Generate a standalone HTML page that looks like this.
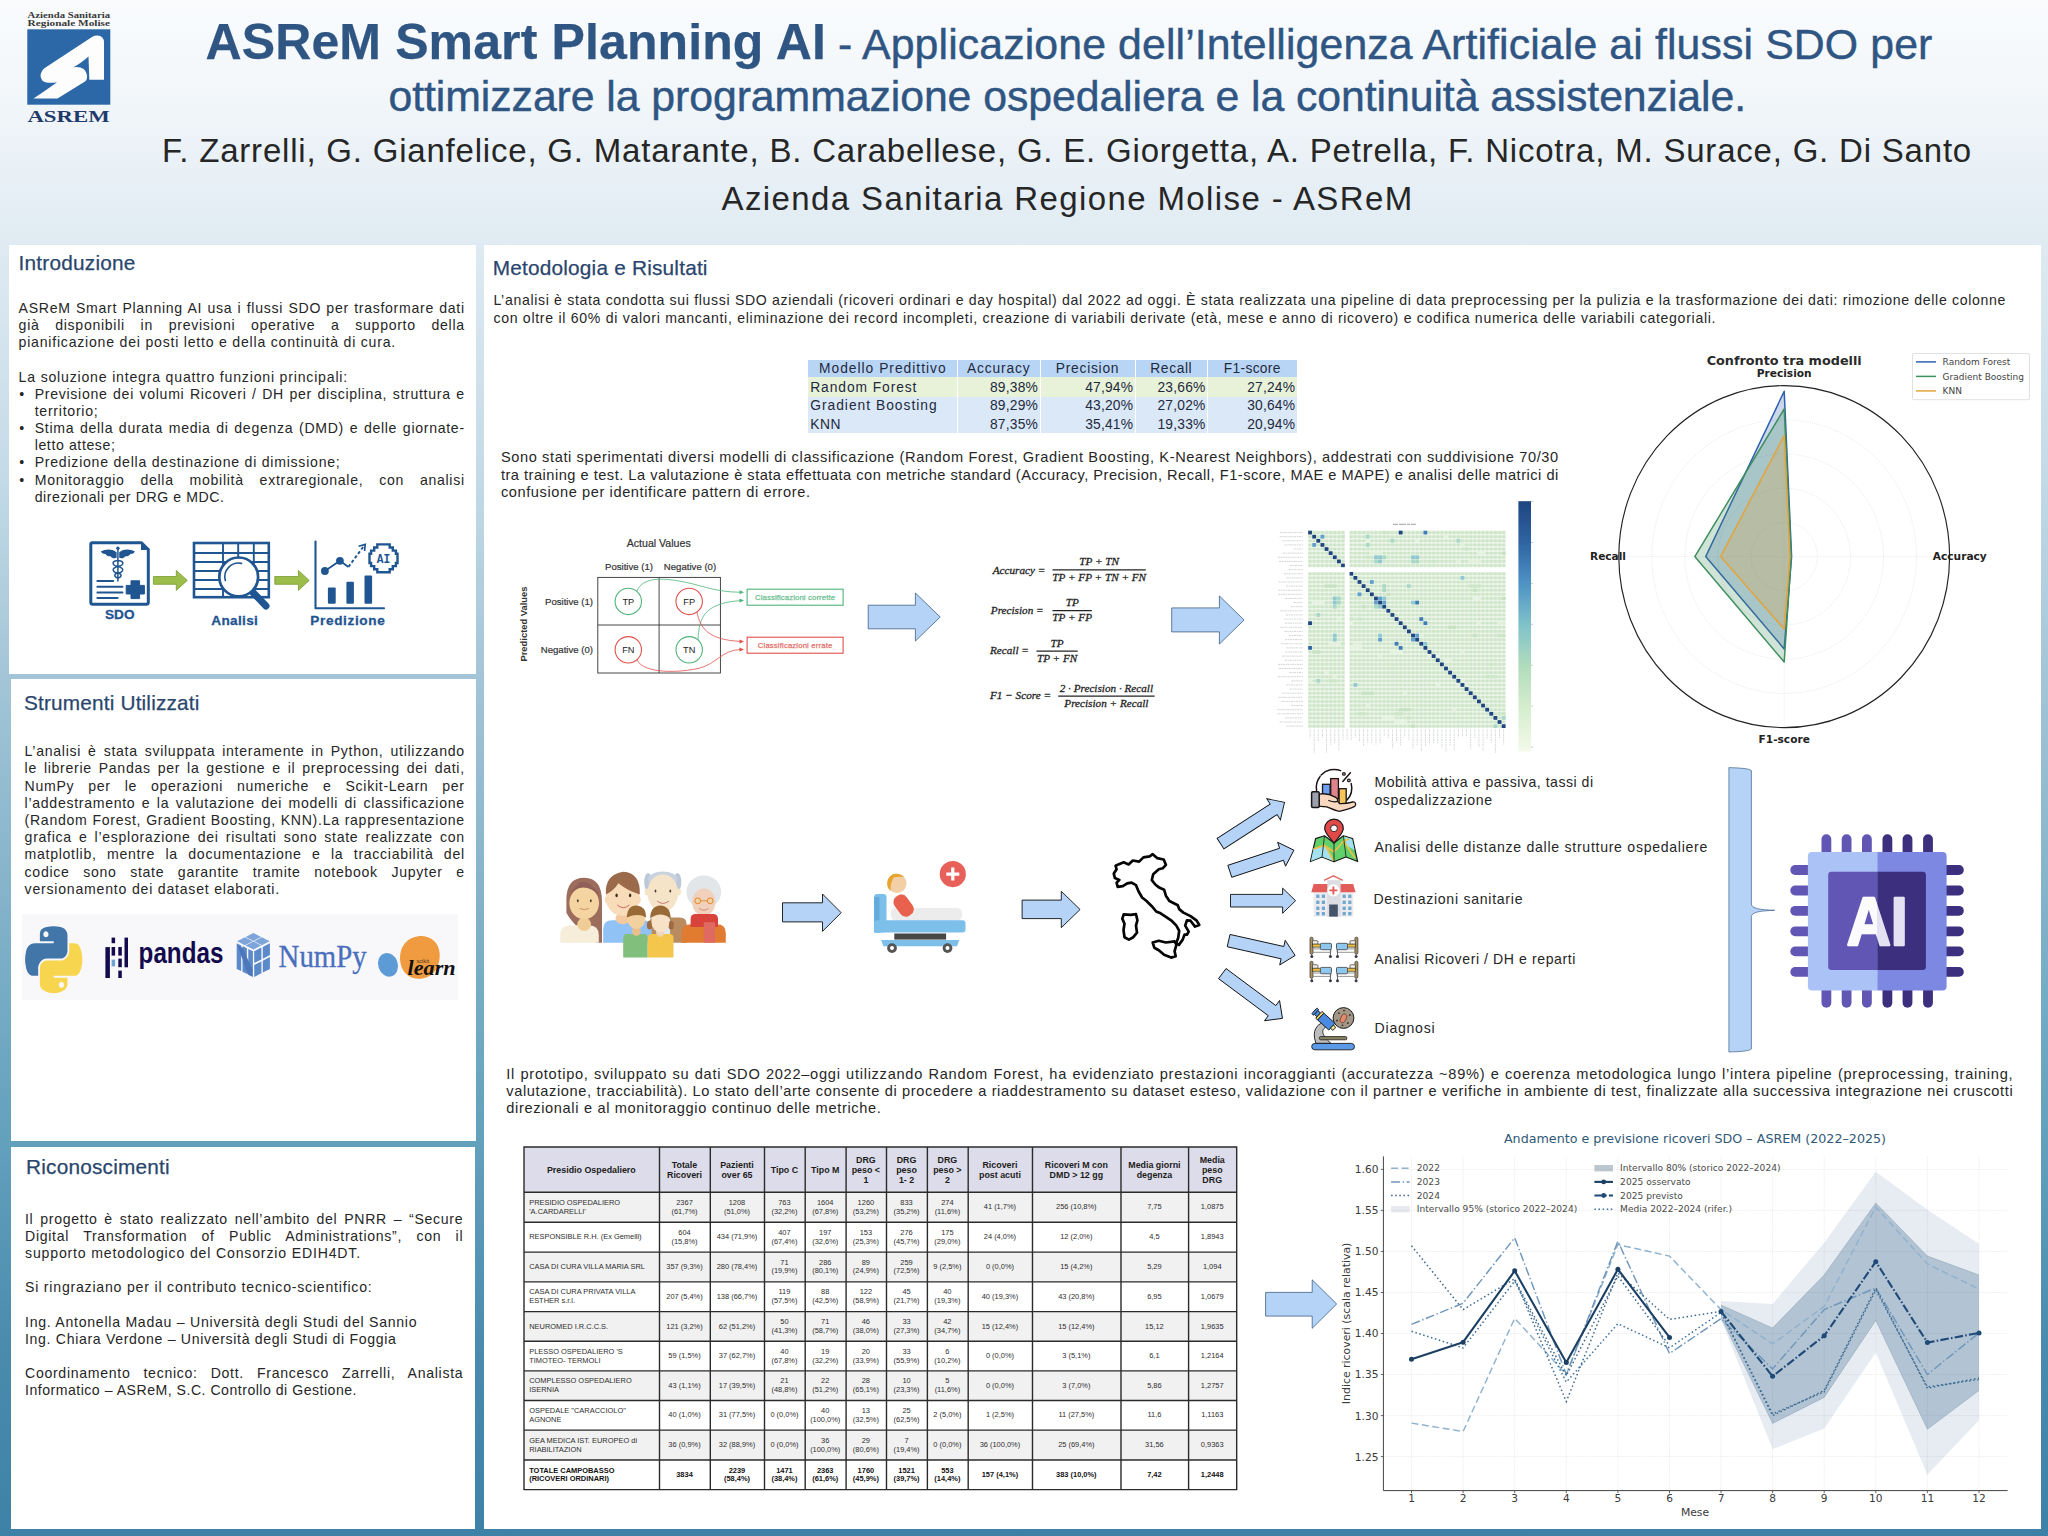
<!DOCTYPE html>
<html lang="it"><head><meta charset="utf-8">
<title>ASReM Smart Planning AI</title>
<style>
html,body{margin:0;padding:0;}
body{width:2048px;height:1536px;overflow:hidden;position:relative;font-family:"Liberation Sans",sans-serif;
background:linear-gradient(180deg,#f9fbfd 0px,#f3f7fa 90px,#e6eff5 190px,#dfeaf2 245px,#c4dbe7 470px,#a3c5d7 676px,#7fb0c8 930px,#62a0bc 1144px,#4a8bad 1350px,#3d82a6 1536px);}
.t{position:absolute;white-space:nowrap;margin:0;padding:0;}
.b{position:absolute;display:block;}
.p{position:absolute;background:#fff;}
.th,.td{position:absolute;display:flex;align-items:center;justify-content:center;text-align:center;box-sizing:border-box;}
.th{font-weight:bold;font-size:8.9px;line-height:10.2px;color:#1c1c1c;padding-top:1.4px;}
.td{font-size:7.45px;line-height:8.8px;color:#2e2e2e;padding-top:1px;}
.tl{justify-content:flex-start;text-align:left;padding-left:5.6px;}
.tb{font-weight:bold;color:#111;}
</style></head><body>

<div class="p" style="left:9px;top:245px;width:467px;height:429px"></div>
<div class="p" style="left:11px;top:679px;width:465px;height:462px"></div>
<div class="p" style="left:11px;top:1147px;width:464px;height:382px"></div>
<div class="p" style="left:484px;top:245px;width:1557px;height:1284px"></div>
<svg class="b" style="left:20px;top:8px" width="100" height="120" viewBox="20 8 100 120"><g font-family="'Liberation Serif', serif" font-weight="bold" lengthAdjust="spacingAndGlyphs"><text x="27.6" y="18.2" font-size="7.7" fill="#3a3a3a" textLength="82.4" lengthAdjust="spacingAndGlyphs">Azienda Sanitaria</text><text x="27.6" y="25.6" font-size="7.7" fill="#3a3a3a" textLength="82.4" lengthAdjust="spacingAndGlyphs">Regionale Molise</text><text x="27.4" y="121.6" font-size="17.6" fill="#1f3a6b" textLength="82.4" lengthAdjust="spacingAndGlyphs">ASREM</text></g></svg>
<svg class="b" style="left:27.0px;top:29.0px;" width="84.0" height="76.0" viewBox="0 0 84 76">
<rect x="0.3" y="0.3" width="83" height="75.4" fill="#2c68a7"/>
<path d="M6.5 69.5 L30.5 69.5 L58 52.5 Q60.5 50.5 60 46.5 Q59 41.5 56.5 40 Q53.5 37.5 46.5 38.2 Q53.5 34.5 61.5 27.5 L62.3 50.8 L77 50.8 L77 13.5 Q76.8 7 70.5 6.6 Q67.5 6.6 65 8 L18.5 38.5 Q13.5 42 13.6 47 Q14 52.5 19.5 53.5 Q23.5 54.3 30 53.2 Q20 60.5 6.5 69.5 Z" fill="#fdfdfd"/>
</svg>
<div class="t" style="left:205.5px;top:14.0px;font-size:50px;line-height:56px;color:#2f5583;width:1727.0px;text-align:justify;text-align-last:justify;letter-spacing:0.116px;"><b style="-webkit-text-stroke:0.25px #2f5583">ASReM Smart Planning AI</b><span style="font-size:42.8px;-webkit-text-stroke:0.45px #2f5583"> - Applicazione dell’Intelligenza Artificiale ai flussi SDO per</span></div>
<div class="t" style="left:388.5px;top:72.0px;font-size:42.8px;line-height:48px;color:#2f5583;width:1357.5px;text-align:justify;text-align-last:justify;letter-spacing:-0.081px;-webkit-text-stroke:0.45px #2f5583;">ottimizzare la programmazione ospedaliera e la continuità assistenziale.</div>
<div class="t" style="left:162.0px;top:132.0px;font-size:33px;line-height:37px;color:#262626;width:1810.0px;text-align:justify;text-align-last:justify;letter-spacing:0.791px;">F. Zarrelli, G. Gianfelice, G. Matarante, B. Carabellese, G. E. Giorgetta, A. Petrella, F. Nicotra, M. Surace, G. Di Santo</div>
<div class="t" style="left:721.5px;top:180.0px;font-size:33px;line-height:37px;color:#262626;width:692.0px;text-align:justify;text-align-last:justify;letter-spacing:1.383px;">Azienda Sanitaria Regione Molise - ASReM</div>
<div class="t" style="left:18.6px;top:251.0px;font-size:20.8px;line-height:23px;color:#2a456c;width:117.0px;text-align:justify;text-align-last:justify;letter-spacing:0.207px;-webkit-text-stroke:0.25px #2d4a73;">Introduzione</div>
<div class="t" style="left:18.6px;top:300.0px;font-size:14.1px;line-height:16px;color:#262626;width:446.2px;text-align:justify;text-align-last:justify;letter-spacing:0.701px;">ASReM Smart Planning AI usa i flussi SDO per trasformare dati</div>
<div class="t" style="left:18.6px;top:317.0px;font-size:14.1px;line-height:16px;color:#262626;width:446.2px;text-align:justify;text-align-last:justify;letter-spacing:0.701px;">già disponibili in previsioni operative a supporto della</div>
<div class="t" style="left:18.6px;top:334.0px;font-size:14.1px;line-height:16px;color:#262626;width:377.4px;text-align:justify;text-align-last:justify;letter-spacing:0.775px;">pianificazione dei posti letto e della continuità di cura.</div>
<div class="t" style="left:18.6px;top:369.0px;font-size:14.1px;line-height:16px;color:#262626;width:329.4px;text-align:justify;text-align-last:justify;letter-spacing:0.802px;">La soluzione integra quattro funzioni principali:</div>
<div class="t" style="left:34.7px;top:386.0px;font-size:14.1px;line-height:16px;color:#262626;width:430.1px;text-align:justify;text-align-last:justify;letter-spacing:0.701px;">Previsione dei volumi Ricoveri / DH per disciplina, struttura e</div>
<div class="t" style="left:34.7px;top:403.0px;font-size:14.1px;line-height:16px;color:#262626;width:63.8px;text-align:justify;text-align-last:justify;letter-spacing:0.741px;">territorio;</div>
<div class="t" style="left:34.7px;top:420.0px;font-size:14.1px;line-height:16px;color:#262626;width:430.1px;text-align:justify;text-align-last:justify;letter-spacing:0.701px;">Stima della durata media di degenza (DMD) e delle giornate-</div>
<div class="t" style="left:34.7px;top:437.0px;font-size:14.1px;line-height:16px;color:#262626;width:80.8px;text-align:justify;text-align-last:justify;letter-spacing:0.606px;">letto attese;</div>
<div class="t" style="left:34.7px;top:454.0px;font-size:14.1px;line-height:16px;color:#262626;width:305.8px;text-align:justify;text-align-last:justify;letter-spacing:0.750px;">Predizione della destinazione di dimissione;</div>
<div class="t" style="left:34.7px;top:472.0px;font-size:14.1px;line-height:16px;color:#262626;width:430.1px;text-align:justify;text-align-last:justify;letter-spacing:0.701px;">Monitoraggio della mobilità extraregionale, con analisi</div>
<div class="t" style="left:34.7px;top:489.0px;font-size:14.1px;line-height:16px;color:#262626;width:189.8px;text-align:justify;text-align-last:justify;letter-spacing:0.578px;">direzionali per DRG e MDC.</div>
<div class="t" style="left:19.3px;top:386.0px;font-size:14.1px;line-height:16px;color:#262626;">•</div>
<div class="t" style="left:19.3px;top:420.0px;font-size:14.1px;line-height:16px;color:#262626;">•</div>
<div class="t" style="left:19.3px;top:454.0px;font-size:14.1px;line-height:16px;color:#262626;">•</div>
<div class="t" style="left:19.3px;top:472.0px;font-size:14.1px;line-height:16px;color:#262626;">•</div>
<div class="t" style="left:24.0px;top:691.0px;font-size:20.8px;line-height:23px;color:#2a456c;width:175.5px;text-align:justify;text-align-last:justify;letter-spacing:0.161px;-webkit-text-stroke:0.25px #2d4a73;">Strumenti Utilizzati</div>
<div class="t" style="left:24.6px;top:743.0px;font-size:14.1px;line-height:16px;color:#262626;width:440.2px;text-align:justify;text-align-last:justify;letter-spacing:0.701px;">L’analisi è stata sviluppata interamente in Python, utilizzando</div>
<div class="t" style="left:24.6px;top:760.0px;font-size:14.1px;line-height:16px;color:#262626;width:440.2px;text-align:justify;text-align-last:justify;letter-spacing:0.701px;">le librerie Pandas per la gestione e il preprocessing dei dati,</div>
<div class="t" style="left:24.6px;top:778.0px;font-size:14.1px;line-height:16px;color:#262626;width:440.2px;text-align:justify;text-align-last:justify;letter-spacing:0.701px;">NumPy per le operazioni numeriche e Scikit-Learn per</div>
<div class="t" style="left:24.6px;top:795.0px;font-size:14.1px;line-height:16px;color:#262626;width:440.2px;text-align:justify;text-align-last:justify;letter-spacing:0.701px;">l’addestramento e la valutazione dei modelli di classificazione</div>
<div class="t" style="left:24.6px;top:812.0px;font-size:14.1px;line-height:16px;color:#262626;width:440.2px;text-align:justify;text-align-last:justify;letter-spacing:0.701px;">(Random Forest, Gradient Boosting, KNN).La rappresentazione</div>
<div class="t" style="left:24.6px;top:829.0px;font-size:14.1px;line-height:16px;color:#262626;width:440.2px;text-align:justify;text-align-last:justify;letter-spacing:0.701px;">grafica e l’esplorazione dei risultati sono state realizzate con</div>
<div class="t" style="left:24.6px;top:846.0px;font-size:14.1px;line-height:16px;color:#262626;width:440.2px;text-align:justify;text-align-last:justify;letter-spacing:0.701px;">matplotlib, mentre la documentazione e la tracciabilità del</div>
<div class="t" style="left:24.6px;top:864.0px;font-size:14.1px;line-height:16px;color:#262626;width:440.2px;text-align:justify;text-align-last:justify;letter-spacing:0.701px;">codice sono state garantite tramite notebook Jupyter e</div>
<div class="t" style="left:24.6px;top:881.0px;font-size:14.1px;line-height:16px;color:#262626;width:255.4px;text-align:justify;text-align-last:justify;letter-spacing:0.779px;">versionamento dei dataset elaborati.</div>
<div class="t" style="left:26.1px;top:1155.0px;font-size:20.8px;line-height:23px;color:#2a456c;width:143.7px;text-align:justify;text-align-last:justify;letter-spacing:0.188px;-webkit-text-stroke:0.25px #2d4a73;">Riconoscimenti</div>
<div class="t" style="left:25.0px;top:1211.0px;font-size:14.1px;line-height:16px;color:#262626;width:438.3px;text-align:justify;text-align-last:justify;letter-spacing:0.701px;">Il progetto è stato realizzato nell’ambito del PNRR – “Secure</div>
<div class="t" style="left:25.0px;top:1228.0px;font-size:14.1px;line-height:16px;color:#262626;width:438.3px;text-align:justify;text-align-last:justify;letter-spacing:0.701px;">Digital Transformation of Public Administrations”, con il</div>
<div class="t" style="left:25.0px;top:1245.0px;font-size:14.1px;line-height:16px;color:#262626;width:336.0px;text-align:justify;text-align-last:justify;letter-spacing:0.831px;">supporto metodologico del Consorzio EDIH4DT.</div>
<div class="t" style="left:25.0px;top:1279.0px;font-size:14.1px;line-height:16px;color:#262626;width:347.5px;text-align:justify;text-align-last:justify;letter-spacing:0.788px;">Si ringraziano per il contributo tecnico-scientifico:</div>
<div class="t" style="left:25.0px;top:1314.0px;font-size:14.1px;line-height:16px;color:#262626;width:392.3px;text-align:justify;text-align-last:justify;letter-spacing:0.733px;">Ing. Antonella Madau – Università degli Studi del Sannio</div>
<div class="t" style="left:25.0px;top:1331.0px;font-size:14.1px;line-height:16px;color:#262626;width:371.6px;text-align:justify;text-align-last:justify;letter-spacing:0.668px;">Ing. Chiara Verdone – Università degli Studi di Foggia</div>
<div class="t" style="left:25.0px;top:1365.0px;font-size:14.1px;line-height:16px;color:#262626;width:438.3px;text-align:justify;text-align-last:justify;letter-spacing:0.701px;">Coordinamento tecnico: Dott. Francesco Zarrelli, Analista</div>
<div class="t" style="left:25.0px;top:1382.0px;font-size:14.1px;line-height:16px;color:#262626;width:332.0px;text-align:justify;text-align-last:justify;letter-spacing:0.499px;">Informatico – ASReM, S.C. Controllo di Gestione.</div>
<div class="b" style="left:22.3px;top:914.0px;width:436.2px;height:86.0px;background:#f8f8fa;"></div>
<svg class="b" style="left:22px;top:914px" width="437" height="86" viewBox="22 914 437 86">
<g transform="translate(25.1,926.3) scale(0.515,0.595)"><path fill="#4275a8" d="M54.92 0.001c-4.584.022-8.961.413-12.813 1.095C30.76 3.1 28.7 7.295 28.7 15.032v10.219h26.813v3.406H18.638c-7.793 0-14.616 4.684-16.75 13.594-2.462 10.213-2.571 16.586 0 27.25 1.906 7.938 6.458 13.594 14.25 13.594h9.219v-12.25c0-8.85 7.657-16.656 16.75-16.656h26.781c7.455 0 13.406-6.138 13.406-13.625V15.032c0-7.266-6.13-12.725-13.406-13.937C64.282.328 59.502-.02 54.918.001zm-14.5 8.219c2.77 0 5.031 2.299 5.031 5.125 0 2.816-2.262 5.094-5.031 5.094-2.78 0-5.031-2.277-5.031-5.094 0-2.826 2.252-5.125 5.031-5.125z"/><path fill="#f8d54e" d="M85.638 28.657v11.906c0 9.231-7.826 17-16.75 17H42.106c-7.336 0-13.406 6.279-13.406 13.625v25.531c0 7.266 6.319 11.541 13.406 13.625 8.487 2.496 16.626 2.947 26.781 0 6.75-1.954 13.406-5.888 13.406-13.625V86.501H55.513v-3.406h40.188c7.793 0 10.696-5.436 13.406-13.594 2.8-8.399 2.681-16.476 0-27.25-1.926-7.757-5.604-13.594-13.406-13.594zM70.575 93.313c2.78 0 5.031 2.278 5.031 5.094 0 2.826-2.252 5.125-5.031 5.125-2.77 0-5.031-2.299-5.031-5.125 0-2.816 2.262-5.094 5.031-5.094z"/></g>
<rect x="105.4" y="947.1" width="4.5" height="30.9" fill="#130a4e"/>
<rect x="111.6" y="937.6" width="3.5" height="5.6" fill="#130a4e"/>
<rect x="111.6" y="947.0" width="3.5" height="8.6" fill="#130a4e"/>
<rect x="111.6" y="959.6" width="3.5" height="6.8" fill="#6ea2d5"/>
<rect x="118.3" y="947.0" width="3.5" height="8.6" fill="#130a4e"/>
<rect x="118.3" y="958.6" width="3.5" height="8.6" fill="#130a4e"/>
<rect x="118.3" y="970.6" width="3.5" height="7.4" fill="#130a4e"/>
<rect x="124.5" y="937.6" width="3.5" height="29.7" fill="#130a4e"/>
<text transform="translate(138.6,962.9) scale(1,1.2)" font-family="'Liberation Sans', sans-serif" font-weight="bold" font-size="24.2" fill="#130a4e" textLength="84.8" lengthAdjust="spacingAndGlyphs">pandas</text>
<path d="M253.4 932.9 L261.2 936.9 L253.4 940.9 L245.6 936.9 Z" fill="#7ea5da"/>
<path d="M244.9 937.2 L252.7 941.2 L244.9 945.2 L237.1 941.2 Z" fill="#7ea5da"/>
<path d="M261.9 937.2 L269.7 941.2 L261.9 945.2 L254.1 941.2 Z" fill="#7ea5da"/>
<path d="M253.4 941.5 L261.2 945.5 L253.4 949.5 L245.6 945.5 Z" fill="#7ea5da"/>
<path d="M236.7 943.2 L241.2 945.4 L241.2 971.1 L236.7 968.9 Z" fill="#5b89c9"/>
<path d="M242.5 946.1 L246.9 948.3 L246.9 959.9 L242.5 957.7 Z" fill="#5b89c9"/>
<path d="M242.5 960.2 L246.9 962.5 L246.9 974.0 L242.5 971.8 Z" fill="#5b89c9"/>
<path d="M248.3 949.0 L252.9 951.3 L252.9 977.0 L248.3 974.7 Z" fill="#5b89c9"/>
<path d="M237.6 945.2 L242.6 947.7 L252.4 969.5 L252.4 976.5 L247.4 973.9 Z" fill="#4c78bb"/>
<path d="M254.2 951.2 L261.4 947.6 L261.4 959.4 L254.2 963.0 Z" fill="#5b89c9"/>
<path d="M254.2 965.0 L261.4 961.4 L261.4 973.3 L254.2 976.9 Z" fill="#5b89c9"/>
<path d="M262.8 946.9 L269.9 943.3 L269.9 955.1 L262.8 958.7 Z" fill="#5b89c9"/>
<path d="M262.8 960.7 L269.9 957.1 L269.9 969.0 L262.8 972.6 Z" fill="#5b89c9"/>
<text transform="translate(278.6,966.5) scale(1,1.06)" font-family="'Liberation Serif', serif" font-size="29" fill="#4a6fbd" stroke="#4a6fbd" stroke-width="0.3" textLength="88" lengthAdjust="spacingAndGlyphs">NumPy</text>
<ellipse cx="388" cy="964.8" rx="9.8" ry="12" transform="rotate(-18 388 964.8)" fill="#5c9bd5"/>
<path d="M418 936.2 C429 934.8 438.5 941 439.6 953 C440.6 966 434 977.5 421 978.7 C409 979.6 400.6 972 400 959 C399.6 947 406.5 937.6 418 936.2 Z" fill="#f09b3f"/>
<text x="416.4" y="963.2" font-family="'Liberation Sans', sans-serif" font-size="5" fill="#4a3520" textLength="12.6" lengthAdjust="spacingAndGlyphs">scikit</text>
<text x="407.6" y="975.4" font-family="'Liberation Serif', serif" font-style="italic" font-weight="bold" font-size="21" fill="#111" textLength="48" lengthAdjust="spacingAndGlyphs">learn</text>
</svg>
<div class="t" style="left:492.7px;top:256.0px;font-size:20.8px;line-height:23px;color:#2a456c;width:215.0px;text-align:justify;text-align-last:justify;letter-spacing:0.196px;-webkit-text-stroke:0.25px #2d4a73;">Metodologia e Risultati</div>
<div class="t" style="left:493.4px;top:292.0px;font-size:14.1px;line-height:16px;color:#262626;width:1512.6px;text-align:justify;text-align-last:justify;letter-spacing:0.661px;">L’analisi è stata condotta sui flussi SDO aziendali (ricoveri ordinari e day hospital) dal 2022 ad oggi. È stata realizzata una pipeline di data preprocessing per la pulizia e la trasformazione dei dati: rimozione delle colonne</div>
<div class="t" style="left:493.4px;top:310.0px;font-size:14.1px;line-height:16px;color:#262626;width:1222.8px;text-align:justify;text-align-last:justify;letter-spacing:0.698px;">con oltre il 60% di valori mancanti, eliminazione dei record incompleti, creazione di variabili derivate (età, mese e anno di ricovero) e codifica numerica delle variabili categoriali.</div>
<div class="b" style="left:808.3px;top:359.5px;width:149.1px;height:17.4px;background:#b9d5f5;"></div>
<div class="b" style="left:958.0px;top:359.5px;width:82.0px;height:17.4px;background:#b9d5f5;"></div>
<div class="b" style="left:1040.6px;top:359.5px;width:94.6px;height:17.4px;background:#b9d5f5;"></div>
<div class="b" style="left:1135.8px;top:359.5px;width:71.7px;height:17.4px;background:#b9d5f5;"></div>
<div class="b" style="left:1208.1px;top:359.5px;width:89.1px;height:17.4px;background:#b9d5f5;"></div>
<div class="b" style="left:808.3px;top:377.3px;width:149.1px;height:19.3px;background:#e7f2d9;"></div>
<div class="b" style="left:958.0px;top:377.3px;width:82.0px;height:19.3px;background:#e7f2d9;"></div>
<div class="b" style="left:1040.6px;top:377.3px;width:94.6px;height:19.3px;background:#e7f2d9;"></div>
<div class="b" style="left:1135.8px;top:377.3px;width:71.7px;height:19.3px;background:#e7f2d9;"></div>
<div class="b" style="left:1208.1px;top:377.3px;width:89.1px;height:19.3px;background:#e7f2d9;"></div>
<div class="b" style="left:808.3px;top:397.0px;width:149.1px;height:18.0px;background:#dae8f8;"></div>
<div class="b" style="left:958.0px;top:397.0px;width:82.0px;height:18.0px;background:#dae8f8;"></div>
<div class="b" style="left:1040.6px;top:397.0px;width:94.6px;height:18.0px;background:#dae8f8;"></div>
<div class="b" style="left:1135.8px;top:397.0px;width:71.7px;height:18.0px;background:#dae8f8;"></div>
<div class="b" style="left:1208.1px;top:397.0px;width:89.1px;height:18.0px;background:#dae8f8;"></div>
<div class="b" style="left:808.3px;top:415.4px;width:149.1px;height:17.8px;background:#dae8f8;"></div>
<div class="b" style="left:958.0px;top:415.4px;width:82.0px;height:17.8px;background:#dae8f8;"></div>
<div class="b" style="left:1040.6px;top:415.4px;width:94.6px;height:17.8px;background:#dae8f8;"></div>
<div class="b" style="left:1135.8px;top:415.4px;width:71.7px;height:17.8px;background:#dae8f8;"></div>
<div class="b" style="left:1208.1px;top:415.4px;width:89.1px;height:17.8px;background:#dae8f8;"></div>
<div class="t" style="left:819.0px;top:361.0px;font-size:13.8px;line-height:15px;color:#1f2a3d;width:127.6px;text-align:justify;text-align-last:justify;letter-spacing:0.992px;">Modello Predittivo</div>
<div class="t" style="left:967.0px;top:361.0px;font-size:13.8px;line-height:15px;color:#1f2a3d;width:63.5px;text-align:justify;text-align-last:justify;letter-spacing:0.840px;">Accuracy</div>
<div class="t" style="left:1055.8px;top:361.0px;font-size:13.8px;line-height:15px;color:#1f2a3d;width:63.5px;text-align:justify;text-align-last:justify;letter-spacing:0.746px;">Precision</div>
<div class="t" style="left:1150.3px;top:361.0px;font-size:13.8px;line-height:15px;color:#1f2a3d;width:42.0px;text-align:justify;text-align-last:justify;letter-spacing:0.605px;">Recall</div>
<div class="t" style="left:1223.8px;top:361.0px;font-size:13.8px;line-height:15px;color:#1f2a3d;width:57.0px;text-align:justify;text-align-last:justify;letter-spacing:0.316px;">F1-score</div>
<div class="t" style="left:810.2px;top:380.0px;font-size:13.8px;line-height:15px;color:#1f2a3d;width:107.2px;text-align:justify;text-align-last:justify;letter-spacing:0.927px;">Random Forest</div>
<div class="t" style="left:990.0px;top:380.0px;font-size:13.8px;line-height:15px;color:#1f2a3d;width:48.0px;text-align:justify;text-align-last:justify;letter-spacing:0.197px;">89,38%</div>
<div class="t" style="left:1085.2px;top:380.0px;font-size:13.8px;line-height:15px;color:#1f2a3d;width:48.0px;text-align:justify;text-align-last:justify;letter-spacing:0.197px;">47,94%</div>
<div class="t" style="left:1157.5px;top:380.0px;font-size:13.8px;line-height:15px;color:#1f2a3d;width:48.0px;text-align:justify;text-align-last:justify;letter-spacing:0.197px;">23,66%</div>
<div class="t" style="left:1247.2px;top:380.0px;font-size:13.8px;line-height:15px;color:#1f2a3d;width:48.0px;text-align:justify;text-align-last:justify;letter-spacing:0.197px;">27,24%</div>
<div class="t" style="left:810.2px;top:398.0px;font-size:13.8px;line-height:15px;color:#1f2a3d;width:127.5px;text-align:justify;text-align-last:justify;letter-spacing:0.999px;">Gradient Boosting</div>
<div class="t" style="left:990.0px;top:398.0px;font-size:13.8px;line-height:15px;color:#1f2a3d;width:48.0px;text-align:justify;text-align-last:justify;letter-spacing:0.197px;">89,29%</div>
<div class="t" style="left:1085.2px;top:398.0px;font-size:13.8px;line-height:15px;color:#1f2a3d;width:48.0px;text-align:justify;text-align-last:justify;letter-spacing:0.197px;">43,20%</div>
<div class="t" style="left:1157.5px;top:398.0px;font-size:13.8px;line-height:15px;color:#1f2a3d;width:48.0px;text-align:justify;text-align-last:justify;letter-spacing:0.197px;">27,02%</div>
<div class="t" style="left:1247.2px;top:398.0px;font-size:13.8px;line-height:15px;color:#1f2a3d;width:48.0px;text-align:justify;text-align-last:justify;letter-spacing:0.197px;">30,64%</div>
<div class="t" style="left:810.2px;top:417.0px;font-size:13.8px;line-height:15px;color:#1f2a3d;width:31.0px;text-align:justify;text-align-last:justify;letter-spacing:0.616px;">KNN</div>
<div class="t" style="left:990.0px;top:417.0px;font-size:13.8px;line-height:15px;color:#1f2a3d;width:48.0px;text-align:justify;text-align-last:justify;letter-spacing:0.197px;">87,35%</div>
<div class="t" style="left:1085.2px;top:417.0px;font-size:13.8px;line-height:15px;color:#1f2a3d;width:48.0px;text-align:justify;text-align-last:justify;letter-spacing:0.197px;">35,41%</div>
<div class="t" style="left:1157.5px;top:417.0px;font-size:13.8px;line-height:15px;color:#1f2a3d;width:48.0px;text-align:justify;text-align-last:justify;letter-spacing:0.197px;">19,33%</div>
<div class="t" style="left:1247.2px;top:417.0px;font-size:13.8px;line-height:15px;color:#1f2a3d;width:48.0px;text-align:justify;text-align-last:justify;letter-spacing:0.197px;">20,94%</div>
<div class="t" style="left:500.9px;top:449.0px;font-size:14.6px;line-height:16px;color:#262626;width:1057.9px;text-align:justify;text-align-last:justify;letter-spacing:0.607px;">Sono stati sperimentati diversi modelli di classificazione (Random Forest, Gradient Boosting, K-Nearest Neighbors), addestrati con suddivisione 70/30</div>
<div class="t" style="left:500.9px;top:467.0px;font-size:14.6px;line-height:16px;color:#262626;width:1057.9px;text-align:justify;text-align-last:justify;letter-spacing:0.503px;">tra training e test. La valutazione è stata effettuata con metriche standard (Accuracy, Precision, Recall, F1-score, MAE e MAPE) e analisi delle matrici di</div>
<div class="t" style="left:500.9px;top:484.0px;font-size:14.6px;line-height:16px;color:#262626;width:309.7px;text-align:justify;text-align-last:justify;letter-spacing:0.591px;">confusione per identificare pattern di errore.</div>
<div class="t" style="left:506.3px;top:1066.0px;font-size:14.6px;line-height:16px;color:#262626;width:1507.0px;text-align:justify;text-align-last:justify;letter-spacing:0.726px;">Il prototipo, sviluppato su dati SDO 2022–oggi utilizzando Random Forest, ha evidenziato prestazioni incoraggianti (accuratezza ~89%) e coerenza metodologica lungo l’intera pipeline (preprocessing, training,</div>
<div class="t" style="left:506.3px;top:1083.0px;font-size:14.6px;line-height:16px;color:#262626;width:1507.0px;text-align:justify;text-align-last:justify;letter-spacing:0.630px;">valutazione, tracciabilità). Lo stato dell’arte consente di procedere a riaddestramento su dataset esteso, validazione con il partner e verifiche in ambiente di test, finalizzate alla successiva integrazione nei cruscotti</div>
<div class="t" style="left:506.3px;top:1100.0px;font-size:14.6px;line-height:16px;color:#262626;width:375.2px;text-align:justify;text-align-last:justify;letter-spacing:0.650px;">direzionali e al monitoraggio continuo delle metriche.</div>
<div class="t" style="left:1374.4px;top:774.0px;font-size:14.1px;line-height:16px;color:#262626;width:219.2px;text-align:justify;text-align-last:justify;letter-spacing:0.507px;">Mobilità attiva e passiva, tassi di</div>
<div class="t" style="left:1374.4px;top:792.0px;font-size:14.1px;line-height:16px;color:#262626;width:118.4px;text-align:justify;text-align-last:justify;letter-spacing:0.637px;">ospedalizzazione</div>
<div class="t" style="left:1374.4px;top:839.0px;font-size:14.1px;line-height:16px;color:#262626;width:333.7px;text-align:justify;text-align-last:justify;letter-spacing:0.716px;">Analisi delle distanze dalle strutture ospedaliere</div>
<div class="t" style="left:1373.4px;top:891.0px;font-size:14.1px;line-height:16px;color:#262626;width:149.8px;text-align:justify;text-align-last:justify;letter-spacing:0.716px;">Destinazioni sanitarie</div>
<div class="t" style="left:1374.2px;top:951.0px;font-size:14.1px;line-height:16px;color:#262626;width:201.7px;text-align:justify;text-align-last:justify;letter-spacing:0.565px;">Analisi Ricoveri / DH e reparti</div>
<div class="t" style="left:1374.6px;top:1020.0px;font-size:14.1px;line-height:16px;color:#262626;width:60.8px;text-align:justify;text-align-last:justify;letter-spacing:0.741px;">Diagnosi</div>
<svg class="b" style="left:85px;top:535px" width="325" height="100" viewBox="85 535 325 100">
<path d="M92.3 542.7 H141.5 L148.3 549.5 V602.2 Q148.3 604.2 146.3 604.2 H92.8 Q90.8 604.2 90.8 602.2 V544.2 Q90.8 542.7 92.3 542.7 Z" fill="#fff" stroke="#1f5591" stroke-width="3" stroke-linejoin="round"/>
<path d="M141 543 L141 550 L148 550 Z" fill="#1f5591"/>
<g fill="none" stroke="#1f5591" stroke-linecap="round"><path d="M117.9 547.5 V581" stroke-width="1.5"/><path d="M117.9 561 C112 560 111 565 117.9 566.5 C124.5 568 124 572 117.9 573 C113.5 574 114 577 117.9 578" stroke-width="1.5"/><path d="M117.9 561 C124 560 125 565 117.9 566.5 C111.3 568 112 572 117.9 573 C122.3 574 122 577 117.9 578" stroke-width="1.5"/></g>
<circle cx="117.9" cy="548.3" r="1.7" fill="#1f5591"/>
<path d="M116.6 552.2 C111 548 105 549.5 100.8 551.6 C101.8 553.6 104 554.2 105.5 554 C106.5 556 109 556.6 110.5 556.2 C111.8 558.2 114.5 558.8 116.6 557.8 Z" fill="#1f5591"/>
<path d="M119.2 552.2 C124.8 548 130.8 549.5 135 551.6 C134 553.6 131.8 554.2 130.3 554 C129.3 556 126.8 556.6 125.3 556.2 C124 558.2 121.3 558.8 119.2 557.8 Z" fill="#1f5591"/>
<path d="M97.4 581 H113.2" stroke="#1f5591" stroke-width="2" stroke-linecap="round"/>
<path d="M97.4 586.7 H122.5" stroke="#1f5591" stroke-width="2" stroke-linecap="round"/>
<path d="M97.4 592.4 H122.5" stroke="#1f5591" stroke-width="2" stroke-linecap="round"/>
<path d="M97.4 598.1 H117.6" stroke="#1f5591" stroke-width="2" stroke-linecap="round"/>
<path d="M131 580.8 h8.6 v4.6 h4.8 v8.6 h-4.8 v4.6 h-8.6 v-4.6 h-4.8 v-8.6 h4.8 Z" fill="#1f5591" stroke="#1f5591" stroke-width="1" stroke-linejoin="round"/>
<polygon points="153.4,576.5 176.3,576.5 176.3,570.4 187.3,580.4 176.3,590.4 176.3,584.3 153.4,584.3" fill="#9dbd4a" stroke="#7a9a35" stroke-width="0.8"/>
<polygon points="274.8,576.5 298.4,576.5 298.4,570.4 309.2,580.4 298.4,590.4 298.4,584.3 274.8,584.3" fill="#9dbd4a" stroke="#7a9a35" stroke-width="0.8"/>
<rect x="194" y="543" width="74.8" height="54.2" fill="#fff" stroke="#1f5591" stroke-width="2.6"/>
<path d="M194 553 H268.8" stroke="#1f5591" stroke-width="1.9"/>
<path d="M194 562 H268.8" stroke="#1f5591" stroke-width="1.9"/>
<path d="M194 571 H268.8" stroke="#1f5591" stroke-width="1.9"/>
<path d="M194 580 H268.8" stroke="#1f5591" stroke-width="1.9"/>
<path d="M194 589 H268.8" stroke="#1f5591" stroke-width="1.9"/>
<path d="M223 543 V597" stroke="#1f5591" stroke-width="1.9"/>
<path d="M238.2 543 V597" stroke="#1f5591" stroke-width="1.9"/>
<path d="M253.8 543 V597" stroke="#1f5591" stroke-width="1.9"/>
<path d="M252.5 592 L266 606" stroke="#1f5591" stroke-width="7" stroke-linecap="round"/>
<circle cx="238.7" cy="576.9" r="19.4" fill="#fff" stroke="#1f5591" stroke-width="2.7"/>
<path d="M225.3 580.5 A13.8 13.8 0 0 1 241.5 563.4" fill="none" stroke="#1f5591" stroke-width="1.6" stroke-linecap="round"/>
<path d="M315.5 541.5 V608.2 H384" fill="none" stroke="#1f5591" stroke-width="2.1" stroke-linecap="round" stroke-linejoin="round"/>
<rect x="327.9" y="587.6" width="7.8" height="16.2" rx="1" fill="#1f5591"/>
<rect x="346.4" y="581.8" width="7.5" height="22.0" rx="1" fill="#1f5591"/>
<rect x="364.5" y="575.4" width="7.6" height="28.4" rx="1" fill="#1f5591"/>
<path d="M324.9 571 L339.9 560.8 L348.4 566.9" fill="none" stroke="#1f5591" stroke-width="1.9" stroke-linejoin="round"/>
<path d="M348.4 566.9 L363.3 546.8" fill="none" stroke="#1f5591" stroke-width="1.9" stroke-dasharray="3.2 2.2"/>
<path d="M358.6 546.2 L365.2 544.4 L364.6 551" fill="none" stroke="#1f5591" stroke-width="1.7"/>
<circle cx="324.9" cy="571" r="3.9" fill="#1f5591"/><circle cx="339.9" cy="560.8" r="3.9" fill="#1f5591"/>
<path d="M377.3 544.4 h12.4 v3.1 h3.1 v3.1 h3.1 v3.1 h1.6 v9.3 h-1.6 v3.1 h-3.1 v3.1 h-3.1 v3.1 h-12.4 v-3.1 h-3.1 v-3.1 h-3.1 v-3.1 h-1.6 v-9.3 h1.6 v-3.1 h3.1 v-3.1 h3.1 Z" fill="#fff" stroke="#1f5591" stroke-width="2.4" stroke-linejoin="miter"/>
<text x="383.6" y="563.4" text-anchor="middle" font-family="'Liberation Mono', monospace" font-weight="bold" font-size="12.5" fill="#1f5591" textLength="13.5" lengthAdjust="spacingAndGlyphs">AI</text>
</svg>
<div class="t" style="left:104.9px;top:607.0px;font-size:13.6px;line-height:15px;color:#1f5591;width:29.8px;text-align:justify;text-align-last:justify;font-weight:bold;letter-spacing:0.106px;-webkit-text-stroke:0.3px #1f5591;">SDO</div>
<div class="t" style="left:211.3px;top:613.0px;font-size:13.6px;line-height:15px;color:#1f5591;width:46.9px;text-align:justify;text-align-last:justify;font-weight:bold;letter-spacing:0.328px;-webkit-text-stroke:0.3px #1f5591;">Analisi</div>
<div class="t" style="left:310.3px;top:613.0px;font-size:13.6px;line-height:15px;color:#1f5591;width:75.2px;text-align:justify;text-align-last:justify;font-weight:bold;letter-spacing:0.641px;-webkit-text-stroke:0.3px #1f5591;">Predizione</div>
<svg class="b" style="left:500px;top:520px" width="780" height="240" viewBox="500 520 780 240">
<rect x="597.8" y="577.4" width="122.6" height="95.6" fill="none" stroke="#333" stroke-width="0.9"/>
<path d="M659.1 577.4 V673 M597.8 625 H720.4" stroke="#333" stroke-width="0.9" fill="none"/>
<path d="M637 591 C642 578 660 578 676 580.5 C700 584 712 592 741 592.3" fill="none" stroke="#4fb479" stroke-width="0.8"/>
<path d="M698 640 C699 620 702 603 741 600.6" fill="none" stroke="#4fb479" stroke-width="0.8"/>
<path d="M697 612 C700 628 708 640 741 641.4" fill="none" stroke="#e2504b" stroke-width="0.8"/>
<path d="M637 660 C644 674 680 673 700 668 C716 664 722 650 741 649.4" fill="none" stroke="#e2504b" stroke-width="0.8"/>
<path d="M739.5 590.3 L744 592.3 L739.5 594.3 Z" fill="#4fb479"/>
<path d="M739.5 598.6 L744 600.6 L739.5 602.6 Z" fill="#4fb479"/>
<path d="M739.5 639.4 L744 641.4 L739.5 643.4 Z" fill="#e2504b"/>
<path d="M739.5 647.4 L744 649.4 L739.5 651.4 Z" fill="#e2504b"/>
<circle cx="628.3" cy="601.4" r="13.2" fill="#fff" stroke="#4fb479" stroke-width="1.1"/>
<circle cx="689.2" cy="601.4" r="13.2" fill="#fff" stroke="#e2504b" stroke-width="1.1"/>
<circle cx="628.3" cy="649.8" r="13.2" fill="#fff" stroke="#e2504b" stroke-width="1.1"/>
<circle cx="689.2" cy="649.8" r="13.2" fill="#fff" stroke="#4fb479" stroke-width="1.1"/>
<rect x="747.1" y="589.2" width="96" height="16" fill="#fff" stroke="#4fb479" stroke-width="1.1"/>
<rect x="747.1" y="637.2" width="96" height="16" fill="#fff" stroke="#e2504b" stroke-width="1.1"/>
<polygon points="868.2,605.2 915.4,605.2 915.4,593.0 940.2,617.0 915.4,641.0 915.4,628.8 868.2,628.8" fill="#b4d3f6" stroke="#3f5f86" stroke-width="0.8" stroke-linejoin="miter"/>
<polygon points="1171.7,607.9 1219.4,607.9 1219.4,596.0 1244.1,620.0 1219.4,644.0 1219.4,631.9 1171.7,631.9" fill="#b4d3f6" stroke="#3f5f86" stroke-width="0.8" stroke-linejoin="miter"/>
<path d="M1052.5 569.8 H1145.8" stroke="#222" stroke-width="1.25"/>
<path d="M1052.5 610.5 H1091.8" stroke="#222" stroke-width="1.25"/>
<path d="M1036.5 651.0 H1077.7" stroke="#222" stroke-width="1.25"/>
<path d="M1058.2 696.2 H1154.6" stroke="#222" stroke-width="1.25"/>
</svg>
<div class="t" style="left:598.7px;top:537.0px;font-size:10.6px;line-height:12px;color:#333;width:120.0px;text-align:center;-webkit-text-stroke:0.2px #333;">Actual Values</div>
<div class="t" style="left:589.0px;top:561.0px;font-size:9.6px;line-height:11px;color:#333;width:80.0px;text-align:center;-webkit-text-stroke:0.2px #333;">Positive (1)</div>
<div class="t" style="left:650.0px;top:561.0px;font-size:9.6px;line-height:11px;color:#333;width:80.0px;text-align:center;-webkit-text-stroke:0.2px #333;">Negative (0)</div>
<div class="t" style="left:513.0px;top:596.0px;font-size:9.6px;line-height:11px;color:#333;width:80.0px;text-align:right;-webkit-text-stroke:0.2px #333;">Positive (1)</div>
<div class="t" style="left:513.0px;top:644.0px;font-size:9.6px;line-height:11px;color:#333;width:80.0px;text-align:right;-webkit-text-stroke:0.2px #333;">Negative (0)</div>
<div class="t" style="left:613.3px;top:597.0px;font-size:9.2px;line-height:10px;color:#222;width:30.0px;text-align:center;">TP</div>
<div class="t" style="left:674.2px;top:597.0px;font-size:9.2px;line-height:10px;color:#222;width:30.0px;text-align:center;">FP</div>
<div class="t" style="left:613.3px;top:645.0px;font-size:9.2px;line-height:10px;color:#222;width:30.0px;text-align:center;">FN</div>
<div class="t" style="left:674.2px;top:645.0px;font-size:9.2px;line-height:10px;color:#222;width:30.0px;text-align:center;">TN</div>
<div class="t" style="left:755.1px;top:593.0px;font-size:7.7px;line-height:9px;color:#6cc08f;width:80.0px;text-align:justify;text-align-last:justify;letter-spacing:0.125px;-webkit-text-stroke:0.25px #6cc08f;">Classificazioni corrette</div>
<div class="t" style="left:757.8px;top:641.0px;font-size:7.7px;line-height:9px;color:#e4716c;width:74.6px;text-align:justify;text-align-last:justify;letter-spacing:0.163px;-webkit-text-stroke:0.25px #e4716c;">Classificazioni errate</div>
<div class="t" style="left:464.3px;top:618px;width:120px;text-align:center;font-size:9.4px;line-height:12px;color:#333;font-weight:bold;transform:rotate(-90deg);transform-origin:50% 50%;">Predicted Values</div>
<div class="t" style="left:992.7px;top:564.0px;font-size:11.2px;line-height:12px;color:#222;font-family:'Liberation Serif', serif;font-style:italic;-webkit-text-stroke:0.28px #222;">Accuracy =</div>
<div class="t" style="left:1019.2px;top:555.0px;font-size:11.2px;line-height:12px;color:#222;font-family:'Liberation Serif', serif;width:160.0px;text-align:center;font-style:italic;-webkit-text-stroke:0.28px #222;">TP + TN</div>
<div class="t" style="left:1019.2px;top:571.0px;font-size:11.2px;line-height:12px;color:#222;font-family:'Liberation Serif', serif;width:160.0px;text-align:center;font-style:italic;-webkit-text-stroke:0.28px #222;">TP + FP + TN + FN</div>
<div class="t" style="left:990.8px;top:604.0px;font-size:11.2px;line-height:12px;color:#222;font-family:'Liberation Serif', serif;font-style:italic;-webkit-text-stroke:0.28px #222;">Precision =</div>
<div class="t" style="left:992.2px;top:596.0px;font-size:11.2px;line-height:12px;color:#222;font-family:'Liberation Serif', serif;width:160.0px;text-align:center;font-style:italic;-webkit-text-stroke:0.28px #222;">TP</div>
<div class="t" style="left:992.2px;top:611.0px;font-size:11.2px;line-height:12px;color:#222;font-family:'Liberation Serif', serif;width:160.0px;text-align:center;font-style:italic;-webkit-text-stroke:0.28px #222;">TP + FP</div>
<div class="t" style="left:990.0px;top:644.0px;font-size:11.2px;line-height:12px;color:#222;font-family:'Liberation Serif', serif;font-style:italic;-webkit-text-stroke:0.28px #222;">Recall =</div>
<div class="t" style="left:977.1px;top:637.0px;font-size:11.2px;line-height:12px;color:#222;font-family:'Liberation Serif', serif;width:160.0px;text-align:center;font-style:italic;-webkit-text-stroke:0.28px #222;">TP</div>
<div class="t" style="left:977.1px;top:652.0px;font-size:11.2px;line-height:12px;color:#222;font-family:'Liberation Serif', serif;width:160.0px;text-align:center;font-style:italic;-webkit-text-stroke:0.28px #222;">TP + FN</div>
<div class="t" style="left:990.0px;top:689.0px;font-size:11.2px;line-height:12px;color:#222;font-family:'Liberation Serif', serif;font-style:italic;-webkit-text-stroke:0.28px #222;">F1 − Score =</div>
<div class="t" style="left:1026.4px;top:682.0px;font-size:11.2px;line-height:12px;color:#222;font-family:'Liberation Serif', serif;width:160.0px;text-align:center;font-style:italic;-webkit-text-stroke:0.28px #222;">2 · Precision · Recall</div>
<div class="t" style="left:1026.4px;top:697.0px;font-size:11.2px;line-height:12px;color:#222;font-family:'Liberation Serif', serif;width:160.0px;text-align:center;font-style:italic;-webkit-text-stroke:0.28px #222;">Precision + Recall</div>
<svg class="b" style="left:1262px;top:498px" width="280" height="262" viewBox="1262 498 280 262">
<defs><pattern id="hmg" x="1308.0" y="530.5" width="4.1188" height="4.1188" patternUnits="userSpaceOnUse"><rect width="4.1188" height="4.1188" fill="#fff"/><rect x="0.25" y="0.45" width="3.619" height="3.219" fill="#cde5c7"/></pattern><linearGradient id="hmc" x1="0" y1="0" x2="0" y2="1"><stop offset="0" stop-color="#1f4580"/><stop offset="0.17" stop-color="#2f65a4"/><stop offset="0.33" stop-color="#4f93c4"/><stop offset="0.5" stop-color="#82c3c9"/><stop offset="0.66" stop-color="#b1dcbc"/><stop offset="0.83" stop-color="#d6eece"/><stop offset="1" stop-color="#f3faec"/></linearGradient></defs>
<rect x="1308.0" y="530.5" width="197.70" height="197.70" fill="url(#hmg)"/>
<rect x="1390.38" y="568.02" width="12.36" height="3.22" fill="#e6f3e0" opacity="0.8"/>
<rect x="1324.47" y="670.99" width="4.12" height="3.22" fill="#eaf5e6" opacity="0.8"/>
<rect x="1460.39" y="543.31" width="4.12" height="3.22" fill="#e6f3e0" opacity="0.8"/>
<rect x="1328.59" y="642.16" width="12.36" height="3.22" fill="#e6f3e0" opacity="0.8"/>
<rect x="1369.78" y="551.54" width="12.36" height="3.22" fill="#e6f3e0" opacity="0.8"/>
<rect x="1456.28" y="559.78" width="4.12" height="3.22" fill="#e6f3e0" opacity="0.8"/>
<rect x="1456.28" y="683.34" width="12.36" height="3.22" fill="#e6f3e0" opacity="0.8"/>
<rect x="1365.66" y="539.19" width="4.12" height="3.22" fill="#eaf5e6" opacity="0.8"/>
<rect x="1415.09" y="568.02" width="4.12" height="3.22" fill="#eaf5e6" opacity="0.8"/>
<rect x="1452.16" y="708.06" width="4.12" height="3.22" fill="#e6f3e0" opacity="0.8"/>
<rect x="1460.39" y="679.23" width="4.12" height="3.22" fill="#eaf5e6" opacity="0.8"/>
<rect x="1332.71" y="675.11" width="4.12" height="3.22" fill="#e6f3e0" opacity="0.8"/>
<rect x="1468.63" y="584.49" width="12.36" height="3.22" fill="#cbe5c5" opacity="0.8"/>
<rect x="1390.38" y="650.39" width="12.36" height="3.22" fill="#eaf5e6" opacity="0.8"/>
<rect x="1386.26" y="592.73" width="4.12" height="3.22" fill="#c3e0c0" opacity="0.8"/>
<rect x="1328.59" y="679.23" width="8.24" height="3.22" fill="#cbe5c5" opacity="0.8"/>
<rect x="1394.49" y="720.41" width="12.36" height="3.22" fill="#eaf5e6" opacity="0.8"/>
<rect x="1464.51" y="547.43" width="4.12" height="3.22" fill="#cbe5c5" opacity="0.8"/>
<rect x="1349.19" y="617.44" width="4.12" height="3.22" fill="#cbe5c5" opacity="0.8"/>
<rect x="1415.09" y="539.19" width="4.12" height="3.22" fill="#eaf5e6" opacity="0.8"/>
<rect x="1394.49" y="712.18" width="8.24" height="3.22" fill="#cbe5c5" opacity="0.8"/>
<rect x="1460.39" y="650.39" width="4.12" height="3.22" fill="#e6f3e0" opacity="0.8"/>
<rect x="1378.02" y="654.51" width="4.12" height="3.22" fill="#e6f3e0" opacity="0.8"/>
<rect x="1497.46" y="712.18" width="8.24" height="3.22" fill="#cbe5c5" opacity="0.8"/>
<rect x="1382.14" y="716.29" width="12.36" height="3.22" fill="#eaf5e6" opacity="0.8"/>
<rect x="1312.12" y="650.39" width="8.24" height="3.22" fill="#c3e0c0" opacity="0.8"/>
<rect x="1468.63" y="559.78" width="12.36" height="3.22" fill="#e6f3e0" opacity="0.8"/>
<rect x="1361.54" y="605.09" width="4.12" height="3.22" fill="#c3e0c0" opacity="0.8"/>
<rect x="1410.97" y="633.92" width="12.36" height="3.22" fill="#e6f3e0" opacity="0.8"/>
<rect x="1349.19" y="646.28" width="12.36" height="3.22" fill="#eaf5e6" opacity="0.8"/>
<rect x="1340.95" y="642.16" width="8.24" height="3.22" fill="#cbe5c5" opacity="0.8"/>
<rect x="1398.61" y="708.06" width="12.36" height="3.22" fill="#c3e0c0" opacity="0.8"/>
<rect x="1345.07" y="551.54" width="4.12" height="3.22" fill="#c3e0c0" opacity="0.8"/>
<rect x="1365.66" y="703.94" width="4.12" height="3.22" fill="#e6f3e0" opacity="0.8"/>
<rect x="1435.68" y="683.34" width="4.12" height="3.22" fill="#eaf5e6" opacity="0.8"/>
<rect x="1382.14" y="530.95" width="4.12" height="3.22" fill="#cbe5c5" opacity="0.8"/>
<rect x="1448.04" y="625.68" width="8.24" height="3.22" fill="#c3e0c0" opacity="0.8"/>
<rect x="1489.23" y="662.75" width="4.12" height="3.22" fill="#cbe5c5" opacity="0.8"/>
<rect x="1485.11" y="675.11" width="12.36" height="3.22" fill="#cbe5c5" opacity="0.8"/>
<rect x="1410.97" y="633.92" width="4.12" height="3.22" fill="#cbe5c5" opacity="0.8"/>
<rect x="1472.75" y="633.92" width="4.12" height="3.22" fill="#c3e0c0" opacity="0.8"/>
<rect x="1324.47" y="584.49" width="12.36" height="3.22" fill="#c3e0c0" opacity="0.8"/>
<rect x="1336.83" y="617.44" width="4.12" height="3.22" fill="#e6f3e0" opacity="0.8"/>
<rect x="1308.00" y="679.23" width="4.12" height="3.22" fill="#e6f3e0" opacity="0.8"/>
<rect x="1402.73" y="691.58" width="4.12" height="3.22" fill="#e6f3e0" opacity="0.8"/>
<rect x="1361.54" y="691.58" width="12.36" height="3.22" fill="#c3e0c0" opacity="0.8"/>
<rect x="1472.75" y="596.85" width="8.24" height="3.22" fill="#eaf5e6" opacity="0.8"/>
<rect x="1431.56" y="559.78" width="4.12" height="3.22" fill="#cbe5c5" opacity="0.8"/>
<rect x="1427.44" y="654.51" width="12.36" height="3.22" fill="#eaf5e6" opacity="0.8"/>
<rect x="1328.59" y="568.02" width="4.12" height="3.22" fill="#eaf5e6" opacity="0.8"/>
<rect x="1501.58" y="596.85" width="4.12" height="3.22" fill="#c3e0c0" opacity="0.8"/>
<rect x="1443.92" y="535.07" width="4.12" height="3.22" fill="#eaf5e6" opacity="0.8"/>
<rect x="1345.07" y="712.18" width="4.12" height="3.22" fill="#eaf5e6" opacity="0.8"/>
<rect x="1476.87" y="551.54" width="8.24" height="3.22" fill="#eaf5e6" opacity="0.8"/>
<rect x="1349.19" y="621.56" width="4.12" height="3.22" fill="#eaf5e6" opacity="0.8"/>
<rect x="1472.75" y="588.61" width="4.12" height="3.22" fill="#c3e0c0" opacity="0.8"/>
<rect x="1410.97" y="724.53" width="4.12" height="3.22" fill="#c3e0c0" opacity="0.8"/>
<rect x="1443.92" y="658.63" width="8.24" height="3.22" fill="#e6f3e0" opacity="0.8"/>
<rect x="1312.12" y="600.97" width="12.36" height="3.22" fill="#eaf5e6" opacity="0.8"/>
<rect x="1357.42" y="712.18" width="8.24" height="3.22" fill="#cbe5c5" opacity="0.8"/>
<rect x="1497.46" y="621.56" width="8.24" height="3.22" fill="#e6f3e0" opacity="0.8"/>
<rect x="1365.66" y="555.66" width="4.12" height="3.22" fill="#cbe5c5" opacity="0.8"/>
<rect x="1357.42" y="617.44" width="4.12" height="3.22" fill="#cbe5c5" opacity="0.8"/>
<rect x="1468.63" y="691.58" width="4.12" height="3.22" fill="#cbe5c5" opacity="0.8"/>
<rect x="1476.87" y="621.56" width="4.12" height="3.22" fill="#e6f3e0" opacity="0.8"/>
<rect x="1406.85" y="716.29" width="4.12" height="3.22" fill="#cbe5c5" opacity="0.8"/>
<rect x="1353.31" y="642.16" width="8.24" height="3.22" fill="#e6f3e0" opacity="0.8"/>
<rect x="1497.46" y="633.92" width="8.24" height="3.22" fill="#cbe5c5" opacity="0.8"/>
<rect x="1501.58" y="551.54" width="4.12" height="3.22" fill="#c3e0c0" opacity="0.8"/>
<rect x="1340.95" y="535.07" width="4.12" height="3.22" fill="#cbe5c5" opacity="0.8"/>
<rect x="1398.76" y="530.70" width="3.82" height="3.72" fill="#1f4580"/>
<rect x="1423.48" y="530.70" width="3.82" height="3.72" fill="#3f7db8"/>
<rect x="1320.51" y="534.82" width="3.82" height="3.72" fill="#5e9fcd"/>
<rect x="1312.27" y="543.06" width="3.82" height="3.72" fill="#5e9fcd"/>
<rect x="1460.54" y="576.01" width="3.82" height="3.72" fill="#8fc8d0"/>
<rect x="1369.93" y="580.12" width="3.82" height="3.72" fill="#5e9fcd"/>
<rect x="1357.58" y="592.48" width="3.82" height="3.72" fill="#5e9fcd"/>
<rect x="1308.15" y="621.31" width="3.82" height="3.72" fill="#1f4580"/>
<rect x="1419.36" y="617.19" width="3.82" height="3.72" fill="#3f7db8"/>
<rect x="1423.48" y="621.31" width="3.82" height="3.72" fill="#3f7db8"/>
<rect x="1308.15" y="646.03" width="3.82" height="3.72" fill="#2f65a4"/>
<rect x="1394.64" y="641.91" width="3.82" height="3.72" fill="#3f7db8"/>
<rect x="1398.76" y="646.03" width="3.82" height="3.72" fill="#3f7db8"/>
<rect x="1353.46" y="683.09" width="3.82" height="3.72" fill="#8fc8d0"/>
<rect x="1415.24" y="600.72" width="3.82" height="3.72" fill="#3f7db8"/>
<rect x="1378.17" y="637.79" width="3.82" height="3.72" fill="#5e9fcd"/>
<rect x="1423.48" y="641.91" width="3.82" height="3.72" fill="#8fc8d0"/>
<rect x="1501.73" y="716.04" width="3.82" height="3.72" fill="#a9d8c6"/>
<rect x="1493.49" y="724.28" width="3.82" height="3.72" fill="#a9d8c6"/>
<rect x="1316.39" y="678.98" width="3.82" height="3.72" fill="#a9d8c6"/>
<rect x="1316.39" y="613.08" width="3.82" height="3.72" fill="#a9d8c6"/>
<rect x="1456.43" y="538.94" width="3.82" height="3.72" fill="#a9d8c6"/>
<rect x="1390.53" y="538.94" width="3.82" height="3.72" fill="#a9d8c6"/>
<rect x="1365.81" y="534.82" width="3.82" height="3.72" fill="#a9d8c6"/>
<rect x="1365.81" y="543.06" width="3.82" height="3.72" fill="#a9d8c6"/>
<rect x="1382.29" y="584.24" width="3.82" height="3.72" fill="#a9d8c6"/>
<rect x="1382.29" y="588.36" width="3.82" height="3.72" fill="#a9d8c6"/>
<rect x="1407.00" y="584.24" width="3.82" height="3.72" fill="#a9d8c6"/>
<rect x="1332.86" y="596.60" width="3.82" height="3.72" fill="#8fc8d0"/>
<rect x="1332.86" y="600.72" width="3.82" height="3.72" fill="#8fc8d0"/>
<rect x="1332.86" y="604.84" width="3.82" height="3.72" fill="#a9d8c6"/>
<rect x="1332.86" y="633.67" width="3.82" height="3.72" fill="#8fc8d0"/>
<rect x="1332.86" y="637.79" width="3.82" height="3.72" fill="#8fc8d0"/>
<rect x="1336.98" y="596.60" width="3.82" height="3.72" fill="#a9d8c6"/>
<rect x="1336.98" y="600.72" width="3.82" height="3.72" fill="#a9d8c6"/>
<rect x="1374.05" y="555.41" width="3.82" height="3.72" fill="#8fc8d0"/>
<rect x="1378.17" y="555.41" width="3.82" height="3.72" fill="#8fc8d0"/>
<rect x="1382.29" y="555.41" width="3.82" height="3.72" fill="#a9d8c6"/>
<rect x="1374.05" y="559.53" width="3.82" height="3.72" fill="#a9d8c6"/>
<rect x="1378.17" y="559.53" width="3.82" height="3.72" fill="#8fc8d0"/>
<rect x="1411.12" y="555.41" width="3.82" height="3.72" fill="#8fc8d0"/>
<rect x="1415.24" y="555.41" width="3.82" height="3.72" fill="#8fc8d0"/>
<rect x="1411.12" y="559.53" width="3.82" height="3.72" fill="#a9d8c6"/>
<rect x="1415.24" y="559.53" width="3.82" height="3.72" fill="#a9d8c6"/>
<rect x="1378.17" y="596.60" width="3.82" height="3.72" fill="#5e9fcd"/>
<rect x="1382.29" y="596.60" width="3.82" height="3.72" fill="#8fc8d0"/>
<rect x="1374.05" y="600.72" width="3.82" height="3.72" fill="#5e9fcd"/>
<rect x="1382.29" y="600.72" width="3.82" height="3.72" fill="#5e9fcd"/>
<rect x="1378.17" y="604.84" width="3.82" height="3.72" fill="#8fc8d0"/>
<rect x="1374.05" y="604.84" width="3.82" height="3.72" fill="#a9d8c6"/>
<rect x="1411.12" y="637.79" width="3.82" height="3.72" fill="#5e9fcd"/>
<rect x="1415.24" y="633.67" width="3.82" height="3.72" fill="#5e9fcd"/>
<rect x="1378.17" y="633.67" width="3.82" height="3.72" fill="#8fc8d0"/>
<rect x="1411.12" y="600.72" width="3.82" height="3.72" fill="#8fc8d0"/>
<rect x="1308.15" y="530.70" width="3.82" height="3.72" fill="#1f4580"/>
<rect x="1312.27" y="534.82" width="3.82" height="3.72" fill="#1f4580"/>
<rect x="1316.39" y="538.94" width="3.82" height="3.72" fill="#1f4580"/>
<rect x="1320.51" y="543.06" width="3.82" height="3.72" fill="#1f4580"/>
<rect x="1324.62" y="547.18" width="3.82" height="3.72" fill="#1f4580"/>
<rect x="1328.74" y="551.29" width="3.82" height="3.72" fill="#1f4580"/>
<rect x="1332.86" y="555.41" width="3.82" height="3.72" fill="#1f4580"/>
<rect x="1336.98" y="559.53" width="3.82" height="3.72" fill="#1f4580"/>
<rect x="1341.10" y="563.65" width="3.82" height="3.72" fill="#1f4580"/>
<rect x="1349.34" y="571.89" width="3.82" height="3.72" fill="#1f4580"/>
<rect x="1353.46" y="576.01" width="3.82" height="3.72" fill="#1f4580"/>
<rect x="1357.58" y="580.12" width="3.82" height="3.72" fill="#1f4580"/>
<rect x="1361.69" y="584.24" width="3.82" height="3.72" fill="#1f4580"/>
<rect x="1365.81" y="588.36" width="3.82" height="3.72" fill="#1f4580"/>
<rect x="1369.93" y="592.48" width="3.82" height="3.72" fill="#1f4580"/>
<rect x="1374.05" y="596.60" width="3.82" height="3.72" fill="#1f4580"/>
<rect x="1378.17" y="600.72" width="3.82" height="3.72" fill="#1f4580"/>
<rect x="1382.29" y="604.84" width="3.82" height="3.72" fill="#1f4580"/>
<rect x="1386.41" y="608.96" width="3.82" height="3.72" fill="#1f4580"/>
<rect x="1390.53" y="613.08" width="3.82" height="3.72" fill="#1f4580"/>
<rect x="1394.64" y="617.19" width="3.82" height="3.72" fill="#1f4580"/>
<rect x="1398.76" y="621.31" width="3.82" height="3.72" fill="#1f4580"/>
<rect x="1402.88" y="625.43" width="3.82" height="3.72" fill="#1f4580"/>
<rect x="1407.00" y="629.55" width="3.82" height="3.72" fill="#1f4580"/>
<rect x="1411.12" y="633.67" width="3.82" height="3.72" fill="#1f4580"/>
<rect x="1415.24" y="637.79" width="3.82" height="3.72" fill="#1f4580"/>
<rect x="1419.36" y="641.91" width="3.82" height="3.72" fill="#1f4580"/>
<rect x="1423.48" y="646.03" width="3.82" height="3.72" fill="#1f4580"/>
<rect x="1427.59" y="650.14" width="3.82" height="3.72" fill="#1f4580"/>
<rect x="1431.71" y="654.26" width="3.82" height="3.72" fill="#1f4580"/>
<rect x="1435.83" y="658.38" width="3.82" height="3.72" fill="#1f4580"/>
<rect x="1439.95" y="662.50" width="3.82" height="3.72" fill="#1f4580"/>
<rect x="1444.07" y="666.62" width="3.82" height="3.72" fill="#1f4580"/>
<rect x="1448.19" y="670.74" width="3.82" height="3.72" fill="#1f4580"/>
<rect x="1452.31" y="674.86" width="3.82" height="3.72" fill="#1f4580"/>
<rect x="1456.43" y="678.98" width="3.82" height="3.72" fill="#1f4580"/>
<rect x="1460.54" y="683.09" width="3.82" height="3.72" fill="#1f4580"/>
<rect x="1464.66" y="687.21" width="3.82" height="3.72" fill="#1f4580"/>
<rect x="1468.78" y="691.33" width="3.82" height="3.72" fill="#1f4580"/>
<rect x="1472.90" y="695.45" width="3.82" height="3.72" fill="#1f4580"/>
<rect x="1477.02" y="699.57" width="3.82" height="3.72" fill="#1f4580"/>
<rect x="1481.14" y="703.69" width="3.82" height="3.72" fill="#1f4580"/>
<rect x="1485.26" y="707.81" width="3.82" height="3.72" fill="#1f4580"/>
<rect x="1489.38" y="711.93" width="3.82" height="3.72" fill="#1f4580"/>
<rect x="1493.49" y="716.04" width="3.82" height="3.72" fill="#1f4580"/>
<rect x="1497.61" y="720.16" width="3.82" height="3.72" fill="#1f4580"/>
<rect x="1501.73" y="724.28" width="3.82" height="3.72" fill="#1f4580"/>
<rect x="1307.5" y="567.37" width="198.70" height="4.52" fill="#fff"/>
<rect x="1344.87" y="530.0" width="4.52" height="198.70" fill="#fff"/>
<path d="M1280.1 532.56 H1302.8" stroke="#b3b8be" stroke-width="0.6" stroke-dasharray="2.2 0.7 1.3 0.6"/>
<path d="M1310.06 729.3 V737.9" stroke="#bcc1c6" stroke-width="0.6" stroke-dasharray="2.2 0.7 1.3 0.6"/>
<path d="M1279.7 536.68 H1302.8" stroke="#b3b8be" stroke-width="0.6" stroke-dasharray="2.2 0.7 1.3 0.6"/>
<path d="M1314.18 729.3 V752.9" stroke="#bcc1c6" stroke-width="0.6" stroke-dasharray="2.2 0.7 1.3 0.6"/>
<path d="M1282.6 540.80 H1302.8" stroke="#b3b8be" stroke-width="0.6" stroke-dasharray="2.2 0.7 1.3 0.6"/>
<path d="M1318.30 729.3 V741.6" stroke="#bcc1c6" stroke-width="0.6" stroke-dasharray="2.2 0.7 1.3 0.6"/>
<path d="M1284.5 544.92 H1302.8" stroke="#b3b8be" stroke-width="0.6" stroke-dasharray="2.2 0.7 1.3 0.6"/>
<path d="M1322.42 729.3 V737.7" stroke="#bcc1c6" stroke-width="0.6" stroke-dasharray="2.2 0.7 1.3 0.6"/>
<path d="M1293.6 549.03 H1302.8" stroke="#b3b8be" stroke-width="0.6" stroke-dasharray="2.2 0.7 1.3 0.6"/>
<path d="M1326.53 729.3 V752.8" stroke="#bcc1c6" stroke-width="0.6" stroke-dasharray="2.2 0.7 1.3 0.6"/>
<path d="M1282.8 553.15 H1302.8" stroke="#b3b8be" stroke-width="0.6" stroke-dasharray="2.2 0.7 1.3 0.6"/>
<path d="M1330.65 729.3 V744.8" stroke="#bcc1c6" stroke-width="0.6" stroke-dasharray="2.2 0.7 1.3 0.6"/>
<path d="M1277.9 557.27 H1302.8" stroke="#b3b8be" stroke-width="0.6" stroke-dasharray="2.2 0.7 1.3 0.6"/>
<path d="M1334.77 729.3 V743.1" stroke="#bcc1c6" stroke-width="0.6" stroke-dasharray="2.2 0.7 1.3 0.6"/>
<path d="M1279.0 561.39 H1302.8" stroke="#b3b8be" stroke-width="0.6" stroke-dasharray="2.2 0.7 1.3 0.6"/>
<path d="M1338.89 729.3 V750.2" stroke="#bcc1c6" stroke-width="0.6" stroke-dasharray="2.2 0.7 1.3 0.6"/>
<path d="M1290.2 565.51 H1302.8" stroke="#b3b8be" stroke-width="0.6" stroke-dasharray="2.2 0.7 1.3 0.6"/>
<path d="M1343.01 729.3 V739.8" stroke="#bcc1c6" stroke-width="0.6" stroke-dasharray="2.2 0.7 1.3 0.6"/>
<path d="M1288.8 569.63 H1302.8" stroke="#b3b8be" stroke-width="0.6" stroke-dasharray="2.2 0.7 1.3 0.6"/>
<path d="M1347.13 729.3 V739.6" stroke="#bcc1c6" stroke-width="0.6" stroke-dasharray="2.2 0.7 1.3 0.6"/>
<path d="M1283.8 573.75 H1302.8" stroke="#b3b8be" stroke-width="0.6" stroke-dasharray="2.2 0.7 1.3 0.6"/>
<path d="M1351.25 729.3 V740.0" stroke="#bcc1c6" stroke-width="0.6" stroke-dasharray="2.2 0.7 1.3 0.6"/>
<path d="M1286.7 577.87 H1302.8" stroke="#b3b8be" stroke-width="0.6" stroke-dasharray="2.2 0.7 1.3 0.6"/>
<path d="M1355.37 729.3 V737.7" stroke="#bcc1c6" stroke-width="0.6" stroke-dasharray="2.2 0.7 1.3 0.6"/>
<path d="M1278.3 581.98 H1302.8" stroke="#b3b8be" stroke-width="0.6" stroke-dasharray="2.2 0.7 1.3 0.6"/>
<path d="M1359.48 729.3 V741.7" stroke="#bcc1c6" stroke-width="0.6" stroke-dasharray="2.2 0.7 1.3 0.6"/>
<path d="M1286.0 586.10 H1302.8" stroke="#b3b8be" stroke-width="0.6" stroke-dasharray="2.2 0.7 1.3 0.6"/>
<path d="M1363.60 729.3 V745.8" stroke="#bcc1c6" stroke-width="0.6" stroke-dasharray="2.2 0.7 1.3 0.6"/>
<path d="M1278.4 590.22 H1302.8" stroke="#b3b8be" stroke-width="0.6" stroke-dasharray="2.2 0.7 1.3 0.6"/>
<path d="M1367.72 729.3 V742.9" stroke="#bcc1c6" stroke-width="0.6" stroke-dasharray="2.2 0.7 1.3 0.6"/>
<path d="M1278.2 594.34 H1302.8" stroke="#b3b8be" stroke-width="0.6" stroke-dasharray="2.2 0.7 1.3 0.6"/>
<path d="M1371.84 729.3 V744.3" stroke="#bcc1c6" stroke-width="0.6" stroke-dasharray="2.2 0.7 1.3 0.6"/>
<path d="M1284.8 598.46 H1302.8" stroke="#b3b8be" stroke-width="0.6" stroke-dasharray="2.2 0.7 1.3 0.6"/>
<path d="M1375.96 729.3 V744.7" stroke="#bcc1c6" stroke-width="0.6" stroke-dasharray="2.2 0.7 1.3 0.6"/>
<path d="M1293.5 602.58 H1302.8" stroke="#b3b8be" stroke-width="0.6" stroke-dasharray="2.2 0.7 1.3 0.6"/>
<path d="M1380.08 729.3 V743.2" stroke="#bcc1c6" stroke-width="0.6" stroke-dasharray="2.2 0.7 1.3 0.6"/>
<path d="M1290.7 606.70 H1302.8" stroke="#b3b8be" stroke-width="0.6" stroke-dasharray="2.2 0.7 1.3 0.6"/>
<path d="M1384.20 729.3 V735.4" stroke="#bcc1c6" stroke-width="0.6" stroke-dasharray="2.2 0.7 1.3 0.6"/>
<path d="M1280.2 610.82 H1302.8" stroke="#b3b8be" stroke-width="0.6" stroke-dasharray="2.2 0.7 1.3 0.6"/>
<path d="M1388.32 729.3 V738.4" stroke="#bcc1c6" stroke-width="0.6" stroke-dasharray="2.2 0.7 1.3 0.6"/>
<path d="M1285.8 614.93 H1302.8" stroke="#b3b8be" stroke-width="0.6" stroke-dasharray="2.2 0.7 1.3 0.6"/>
<path d="M1392.43 729.3 V748.4" stroke="#bcc1c6" stroke-width="0.6" stroke-dasharray="2.2 0.7 1.3 0.6"/>
<path d="M1284.3 619.05 H1302.8" stroke="#b3b8be" stroke-width="0.6" stroke-dasharray="2.2 0.7 1.3 0.6"/>
<path d="M1396.55 729.3 V741.2" stroke="#bcc1c6" stroke-width="0.6" stroke-dasharray="2.2 0.7 1.3 0.6"/>
<path d="M1285.0 623.17 H1302.8" stroke="#b3b8be" stroke-width="0.6" stroke-dasharray="2.2 0.7 1.3 0.6"/>
<path d="M1400.67 729.3 V745.3" stroke="#bcc1c6" stroke-width="0.6" stroke-dasharray="2.2 0.7 1.3 0.6"/>
<path d="M1280.5 627.29 H1302.8" stroke="#b3b8be" stroke-width="0.6" stroke-dasharray="2.2 0.7 1.3 0.6"/>
<path d="M1404.79 729.3 V737.2" stroke="#bcc1c6" stroke-width="0.6" stroke-dasharray="2.2 0.7 1.3 0.6"/>
<path d="M1284.3 631.41 H1302.8" stroke="#b3b8be" stroke-width="0.6" stroke-dasharray="2.2 0.7 1.3 0.6"/>
<path d="M1408.91 729.3 V739.8" stroke="#bcc1c6" stroke-width="0.6" stroke-dasharray="2.2 0.7 1.3 0.6"/>
<path d="M1289.1 635.53 H1302.8" stroke="#b3b8be" stroke-width="0.6" stroke-dasharray="2.2 0.7 1.3 0.6"/>
<path d="M1413.03 729.3 V749.2" stroke="#bcc1c6" stroke-width="0.6" stroke-dasharray="2.2 0.7 1.3 0.6"/>
<path d="M1285.2 639.65 H1302.8" stroke="#b3b8be" stroke-width="0.6" stroke-dasharray="2.2 0.7 1.3 0.6"/>
<path d="M1417.15 729.3 V745.4" stroke="#bcc1c6" stroke-width="0.6" stroke-dasharray="2.2 0.7 1.3 0.6"/>
<path d="M1280.9 643.77 H1302.8" stroke="#b3b8be" stroke-width="0.6" stroke-dasharray="2.2 0.7 1.3 0.6"/>
<path d="M1421.27 729.3 V751.7" stroke="#bcc1c6" stroke-width="0.6" stroke-dasharray="2.2 0.7 1.3 0.6"/>
<path d="M1286.3 647.88 H1302.8" stroke="#b3b8be" stroke-width="0.6" stroke-dasharray="2.2 0.7 1.3 0.6"/>
<path d="M1425.38 729.3 V746.3" stroke="#bcc1c6" stroke-width="0.6" stroke-dasharray="2.2 0.7 1.3 0.6"/>
<path d="M1285.2 652.00 H1302.8" stroke="#b3b8be" stroke-width="0.6" stroke-dasharray="2.2 0.7 1.3 0.6"/>
<path d="M1429.50 729.3 V744.5" stroke="#bcc1c6" stroke-width="0.6" stroke-dasharray="2.2 0.7 1.3 0.6"/>
<path d="M1282.0 656.12 H1302.8" stroke="#b3b8be" stroke-width="0.6" stroke-dasharray="2.2 0.7 1.3 0.6"/>
<path d="M1433.62 729.3 V743.4" stroke="#bcc1c6" stroke-width="0.6" stroke-dasharray="2.2 0.7 1.3 0.6"/>
<path d="M1284.7 660.24 H1302.8" stroke="#b3b8be" stroke-width="0.6" stroke-dasharray="2.2 0.7 1.3 0.6"/>
<path d="M1437.74 729.3 V743.9" stroke="#bcc1c6" stroke-width="0.6" stroke-dasharray="2.2 0.7 1.3 0.6"/>
<path d="M1277.8 664.36 H1302.8" stroke="#b3b8be" stroke-width="0.6" stroke-dasharray="2.2 0.7 1.3 0.6"/>
<path d="M1441.86 729.3 V747.9" stroke="#bcc1c6" stroke-width="0.6" stroke-dasharray="2.2 0.7 1.3 0.6"/>
<path d="M1278.9 668.48 H1302.8" stroke="#b3b8be" stroke-width="0.6" stroke-dasharray="2.2 0.7 1.3 0.6"/>
<path d="M1445.98 729.3 V752.3" stroke="#bcc1c6" stroke-width="0.6" stroke-dasharray="2.2 0.7 1.3 0.6"/>
<path d="M1289.4 672.60 H1302.8" stroke="#b3b8be" stroke-width="0.6" stroke-dasharray="2.2 0.7 1.3 0.6"/>
<path d="M1450.10 729.3 V745.4" stroke="#bcc1c6" stroke-width="0.6" stroke-dasharray="2.2 0.7 1.3 0.6"/>
<path d="M1277.8 676.72 H1302.8" stroke="#b3b8be" stroke-width="0.6" stroke-dasharray="2.2 0.7 1.3 0.6"/>
<path d="M1454.22 729.3 V750.4" stroke="#bcc1c6" stroke-width="0.6" stroke-dasharray="2.2 0.7 1.3 0.6"/>
<path d="M1291.5 680.83 H1302.8" stroke="#b3b8be" stroke-width="0.6" stroke-dasharray="2.2 0.7 1.3 0.6"/>
<path d="M1458.33 729.3 V737.5" stroke="#bcc1c6" stroke-width="0.6" stroke-dasharray="2.2 0.7 1.3 0.6"/>
<path d="M1286.3 684.95 H1302.8" stroke="#b3b8be" stroke-width="0.6" stroke-dasharray="2.2 0.7 1.3 0.6"/>
<path d="M1462.45 729.3 V736.6" stroke="#bcc1c6" stroke-width="0.6" stroke-dasharray="2.2 0.7 1.3 0.6"/>
<path d="M1289.7 689.07 H1302.8" stroke="#b3b8be" stroke-width="0.6" stroke-dasharray="2.2 0.7 1.3 0.6"/>
<path d="M1466.57 729.3 V736.6" stroke="#bcc1c6" stroke-width="0.6" stroke-dasharray="2.2 0.7 1.3 0.6"/>
<path d="M1282.4 693.19 H1302.8" stroke="#b3b8be" stroke-width="0.6" stroke-dasharray="2.2 0.7 1.3 0.6"/>
<path d="M1470.69 729.3 V749.4" stroke="#bcc1c6" stroke-width="0.6" stroke-dasharray="2.2 0.7 1.3 0.6"/>
<path d="M1278.6 697.31 H1302.8" stroke="#b3b8be" stroke-width="0.6" stroke-dasharray="2.2 0.7 1.3 0.6"/>
<path d="M1474.81 729.3 V738.1" stroke="#bcc1c6" stroke-width="0.6" stroke-dasharray="2.2 0.7 1.3 0.6"/>
<path d="M1281.6 701.43 H1302.8" stroke="#b3b8be" stroke-width="0.6" stroke-dasharray="2.2 0.7 1.3 0.6"/>
<path d="M1478.93 729.3 V747.2" stroke="#bcc1c6" stroke-width="0.6" stroke-dasharray="2.2 0.7 1.3 0.6"/>
<path d="M1291.4 705.55 H1302.8" stroke="#b3b8be" stroke-width="0.6" stroke-dasharray="2.2 0.7 1.3 0.6"/>
<path d="M1483.05 729.3 V751.2" stroke="#bcc1c6" stroke-width="0.6" stroke-dasharray="2.2 0.7 1.3 0.6"/>
<path d="M1277.4 709.67 H1302.8" stroke="#b3b8be" stroke-width="0.6" stroke-dasharray="2.2 0.7 1.3 0.6"/>
<path d="M1487.17 729.3 V739.3" stroke="#bcc1c6" stroke-width="0.6" stroke-dasharray="2.2 0.7 1.3 0.6"/>
<path d="M1277.6 713.78 H1302.8" stroke="#b3b8be" stroke-width="0.6" stroke-dasharray="2.2 0.7 1.3 0.6"/>
<path d="M1491.28 729.3 V742.5" stroke="#bcc1c6" stroke-width="0.6" stroke-dasharray="2.2 0.7 1.3 0.6"/>
<path d="M1285.5 717.90 H1302.8" stroke="#b3b8be" stroke-width="0.6" stroke-dasharray="2.2 0.7 1.3 0.6"/>
<path d="M1495.40 729.3 V753.1" stroke="#bcc1c6" stroke-width="0.6" stroke-dasharray="2.2 0.7 1.3 0.6"/>
<path d="M1279.6 722.02 H1302.8" stroke="#b3b8be" stroke-width="0.6" stroke-dasharray="2.2 0.7 1.3 0.6"/>
<path d="M1499.52 729.3 V738.2" stroke="#bcc1c6" stroke-width="0.6" stroke-dasharray="2.2 0.7 1.3 0.6"/>
<path d="M1286.5 726.14 H1302.8" stroke="#b3b8be" stroke-width="0.6" stroke-dasharray="2.2 0.7 1.3 0.6"/>
<path d="M1503.64 729.3 V744.6" stroke="#bcc1c6" stroke-width="0.6" stroke-dasharray="2.2 0.7 1.3 0.6"/>
<path d="M1393 524.3 H1417" stroke="#888" stroke-width="0.8" stroke-dasharray="5 1 7 1 3 1"/>
<rect x="1518.4" y="501.2" width="12.6" height="250.4" fill="url(#hmc)"/>
<path d="M1531 501.6 h2.2" stroke="#aaa" stroke-width="0.6"/>
<path d="M1531 542.5 h2.2" stroke="#aaa" stroke-width="0.6"/>
<path d="M1531 583.4 h2.2" stroke="#aaa" stroke-width="0.6"/>
<path d="M1531 624.3 h2.2" stroke="#aaa" stroke-width="0.6"/>
<path d="M1531 665.2 h2.2" stroke="#aaa" stroke-width="0.6"/>
<path d="M1531 706.1 h2.2" stroke="#aaa" stroke-width="0.6"/>
<path d="M1531 747.0 h2.2" stroke="#aaa" stroke-width="0.6"/>
</svg>
<svg class="b" style="left:1560px;top:340px" width="480" height="420" viewBox="1560 340 480 420">
<ellipse cx="1784.2" cy="556.6" rx="33.1" ry="34.2" fill="none" stroke="#d9d9d9" stroke-width="0.7" stroke-dasharray="0.8 1.2"/>
<ellipse cx="1784.2" cy="556.6" rx="66.2" ry="68.4" fill="none" stroke="#d9d9d9" stroke-width="0.7" stroke-dasharray="0.8 1.2"/>
<ellipse cx="1784.2" cy="556.6" rx="99.2" ry="102.6" fill="none" stroke="#d9d9d9" stroke-width="0.7" stroke-dasharray="0.8 1.2"/>
<ellipse cx="1784.2" cy="556.6" rx="132.3" ry="136.8" fill="none" stroke="#d9d9d9" stroke-width="0.7" stroke-dasharray="0.8 1.2"/>
<path d="M1618.8 556.6 H1949.6000000000001 M1784.2 385.6 V727.6" stroke="#dcdcdc" stroke-width="0.7" stroke-dasharray="0.8 1.2" fill="none"/>
<polygon points="1791.6,556.6 1784.2,391.3 1705.7,556.6 1784.2,648.9" fill="#2f5fb0" fill-opacity="0.25" stroke="#2f5fb0" stroke-width="1.5" stroke-linejoin="round"/>
<polygon points="1791.2,556.6 1784.2,409.0 1694.8,556.6 1784.2,662.0" fill="#3f8f5f" fill-opacity="0.25" stroke="#3f8f5f" stroke-width="1.5" stroke-linejoin="round"/>
<polygon points="1789.9,556.6 1784.2,435.7 1720.6,556.6 1784.2,629.1" fill="#e3a43a" fill-opacity="0.25" stroke="#e3a43a" stroke-width="1.5" stroke-linejoin="round"/>
<ellipse cx="1784.2" cy="556.6" rx="165.4" ry="171.0" fill="none" stroke="#222" stroke-width="1.15"/>
<g font-family="'DejaVu Sans', 'Liberation Sans', sans-serif" font-weight="bold" fill="#222" text-anchor="middle">
<text x="1784.2" y="365.2" font-size="12.8" fill="#2a2a2a">Confronto tra modelli</text>
<text x="1784.2" y="376.9" font-size="10.6">Precision</text>
<text x="1608" y="560.3" font-size="10.6">Recall</text>
<text x="1959.8" y="560.3" font-size="10.6">Accuracy</text>
<text x="1784.2" y="742.8" font-size="10.6">F1-score</text>
</g>
<rect x="1912.5" y="353.5" width="117" height="46.2" rx="1.5" fill="#fff" fill-opacity="0.85" stroke="#d4d4d4" stroke-width="0.7"/>
<g font-family="'DejaVu Sans', 'Liberation Sans', sans-serif" font-size="9" fill="#444">
<path d="M1916 361.9 H1936" stroke="#2f5fb0" stroke-width="1.5"/>
<text x="1942.6" y="365.0">Random Forest</text>
<path d="M1916 376.4 H1936" stroke="#3f8f5f" stroke-width="1.5"/>
<text x="1942.6" y="379.5">Gradient Boosting</text>
<path d="M1916 390.9 H1936" stroke="#e3a43a" stroke-width="1.5"/>
<text x="1942.6" y="394.0">KNN</text>
</g></svg>
<svg class="b" style="left:540px;top:760px" width="1450" height="300" viewBox="540 760 1450 300">
<path d="M648.6 942.8 V924.4 Q648.6 917.4 655.6 917.4 H679.7 Q686.7 917.4 686.7 924.4 V942.8 Z" fill="#b98b5e"/>
<path d="M656.4 942.8 V920.4 Q656.4 917.4 659.4 917.4 H667.1 Q670.1 917.4 670.1 920.4 V942.8 Z" fill="#dfe6ee"/>
<ellipse cx="648.1" cy="882.2" rx="3.9" ry="9.3" fill="#bcc8d8" />
<ellipse cx="677.4" cy="882.2" rx="3.9" ry="9.3" fill="#bcc8d8" />
<ellipse cx="662.8" cy="879.3" rx="14.6" ry="7.8" fill="#c9d3df" />
<ellipse cx="662.8" cy="893.0" rx="15.4" ry="18.6" fill="#f6e4c8" />
<ellipse cx="662.8" cy="882.2" rx="9.8" ry="5.9" fill="#f6e4c8" />
<ellipse cx="646.7" cy="892.0" rx="2.1" ry="3.4" fill="#f6e4c8" />
<ellipse cx="678.9" cy="892.0" rx="2.1" ry="3.4" fill="#f6e4c8" />
<ellipse cx="655.5" cy="891.0" rx="0.9" ry="1.5" fill="#4a3a30" />
<ellipse cx="670.3" cy="891.0" rx="0.9" ry="1.5" fill="#4a3a30" />
<path d="M566.4 920.8 V899.8 Q566.4 877.8 584.2 877.8 Q602.0 877.8 602.0 901.8 V942.8 H596.0 Q572.4 924.8 566.4 912.8 Z" fill="#9c6c5c"/>
<path d="M560.3 942.8 V935.2 Q560.3 925.2 570.3 925.2 H588.8 Q598.8 925.2 598.8 935.2 V942.8 Z" fill="#f6eedb"/>
<ellipse cx="584.2" cy="924.2" rx="6.8" ry="6.8" fill="#f0cc96" />
<ellipse cx="584.2" cy="903.2" rx="14.8" ry="16.1" fill="#f4d5a2" />
<path d="M568.1 895.9 Q582.2 879.3 600.3 895.9 Q591.0 880.3 579.3 882.2 Z" fill="#8f5f58"/>
<ellipse cx="577.8" cy="900.8" rx="0.9" ry="1.5" fill="#4a3a30" />
<ellipse cx="590.8" cy="900.8" rx="0.9" ry="1.5" fill="#4a3a30" />
<path d="M603.2 942.8 V929.3 Q603.2 920.3 612.2 920.3 H642.6 Q651.6 920.3 651.6 929.3 V942.8 Z" fill="#90c2f6"/>
<ellipse cx="622.8" cy="918.4" rx="7.3" ry="5.9" fill="#f4c9a0" />
<ellipse cx="622.8" cy="898.3" rx="16.8" ry="17.6" fill="#f8dbb8" />
<ellipse cx="607.1" cy="899.8" rx="2.4" ry="3.7" fill="#f8dbb8" />
<ellipse cx="638.4" cy="899.8" rx="2.4" ry="3.7" fill="#f8dbb8" />
<path d="M605.9 894.4 Q604.7 874.4 623.2 871.7 Q640.8 872.9 639.8 894.4 Q628.1 891.0 618.4 883.2 Q613.5 891.0 605.9 894.4 Z" fill="#9b6a4a"/>
<ellipse cx="616.6" cy="895.4" rx="1.2" ry="1.8" fill="#3d2b20" />
<ellipse cx="630.1" cy="895.4" rx="1.2" ry="1.8" fill="#3d2b20" />
<path d="M617.4 905.2 Q623.2 910.5 629.1 905.2" stroke="#d0605a" stroke-width="0.9" fill="none" stroke-linecap="round"/>
<path d="M657.4 901.3 Q662.8 905.7 668.7 901.3" stroke="#b8605a" stroke-width="0.8" fill="none" stroke-linecap="round"/>
<path d="M681.8 942.8 V933.2 Q681.8 924.2 690.8 924.2 H716.8 Q725.8 924.2 725.8 933.2 V942.8 Z" fill="#e07b30"/>
<ellipse cx="703.8" cy="892.0" rx="17.4" ry="16.6" fill="#e2e6e8" />
<ellipse cx="703.8" cy="902.2" rx="11.5" ry="13.7" fill="#f1d0bc" />
<path d="M690.6 927.1 V919.0 Q690.6 914.0 695.6 914.0 H713.0 Q718.0 914.0 718.0 919.0 V927.1 Z" fill="#d8443c"/>
<path d="M703.8 942.8 V923.3 Q703.8 922.3 704.8 922.3 H714.0 Q715.0 922.3 715.0 923.3 V942.8 Z" fill="#e06a62"/>
<circle cx="697.7" cy="900.8" r="2.9" fill="#f3d2a8" stroke="#e0882a" stroke-width="1"/>
<circle cx="710.2" cy="900.8" r="2.9" fill="#f3d2a8" stroke="#e0882a" stroke-width="1"/>
<path d="M700.4 900.8 H707.4" stroke="#e0882a" stroke-width="0.8"/>
<path d="M699.4 908.6 Q703.8 912.0 708.2 908.6" stroke="#c87a70" stroke-width="0.8" fill="none" stroke-linecap="round"/>
<path d="M579.8 908.6 Q584.2 911.0 588.6 908.6" stroke="#c8806a" stroke-width="0.8" fill="none" stroke-linecap="round"/>
<path d="M623.2 957.4 V938.0 Q623.2 934.0 627.2 934.0 H643.7 Q647.7 934.0 647.7 938.0 V957.4 Z" fill="#80c07c"/>
<ellipse cx="636.4" cy="931.1" rx="4.4" ry="4.9" fill="#e9c08c" />
<ellipse cx="636.4" cy="918.8" rx="9.0" ry="10.3" fill="#f2d0a0" />
<path d="M626.9 917.4 Q627.1 905.7 636.4 905.5 Q646.2 906.2 646.2 917.4 Q637.9 912.5 626.9 917.4 Z" fill="#9a6a36"/>
<path d="M647.7 957.4 V938.0 Q647.7 934.0 651.7 934.0 H669.5 Q673.5 934.0 673.5 938.0 V957.4 Z" fill="#f4c64c"/>
<ellipse cx="649.6" cy="925.2" rx="2.7" ry="4.4" fill="#a06a40" />
<ellipse cx="671.1" cy="925.2" rx="2.7" ry="4.4" fill="#a06a40" />
<ellipse cx="660.4" cy="932.0" rx="3.9" ry="4.9" fill="#efd6b8" />
<ellipse cx="660.4" cy="921.8" rx="9.0" ry="10.5" fill="#f7e2c8" />
<path d="M650.1 918.4 Q650.6 905.7 660.4 905.5 Q670.6 906.2 670.6 918.4 Q660.4 910.5 650.1 918.4 Z" fill="#9a6a36"/>
<polygon points="782.5,902.8 822.5,902.8 822.5,894.0 841.2,912.7 822.5,931.4 822.5,921.9 782.5,921.9" fill="#b4d3f6" stroke="#111" stroke-width="0.9" stroke-linejoin="miter"/>
<polygon points="1022.1,900.1 1061.3,900.1 1061.3,891.3 1080.1,909.5 1061.3,927.7 1061.3,918.6 1022.1,918.6" fill="#b4d3f6" stroke="#111" stroke-width="0.9" stroke-linejoin="miter"/>
<rect x="890.8" y="908" width="71.2" height="12.8" rx="5" fill="#ececec"/>
<rect x="874.1" y="893.9" width="12.4" height="38.7" rx="3" fill="#7cc0ea"/>
<rect x="874.1" y="897" width="5.4" height="35.6" fill="#62abdc"/>
<rect x="874.1" y="920.3" width="91.4" height="12.3" rx="3" fill="#7cc0ea"/>
<rect x="894.3" y="933.5" width="51.8" height="6.1" fill="#474747"/>
<path d="M881.1 940 H959.3 L957 946.3 H883.4 Z" fill="#7cc0ea"/>
<circle cx="892" cy="948.1" r="4.9" fill="#555"/><circle cx="892" cy="948.1" r="2" fill="#fff"/>
<circle cx="947.5" cy="948.1" r="4.9" fill="#555"/><circle cx="947.5" cy="948.1" r="2" fill="#fff"/>
<rect x="-7.4" y="-11.5" width="14.8" height="23" rx="6.5" transform="translate(903.6,905.6) rotate(-36)" fill="#e8614c"/>
<circle cx="896.9" cy="883.4" r="9.6" fill="#f2cfa6"/>
<path d="M896 873.8 A9.6 9.6 0 0 0 890.5 890.6 Q890 882 896 873.8 Z" fill="#e6a52e"/>
<path d="M888.4 879 A9.6 9.6 0 0 1 904 877 Q895 876 888.4 879 Z" fill="#e6a52e"/>
<circle cx="952.8" cy="874.1" r="13.1" fill="#e8605a"/>
<path d="M952.8 867.6 V880.6 M946.3 874.1 H959.3" stroke="#fff" stroke-width="3.2"/>
<path d="M1118.4 864.4 L1123.7 862.3 L1128.6 864.4 L1132.8 860.5 L1139.1 861.6 L1143.4 857.4 L1149.7 856.3 L1152.7 854.2 L1157.1 858.1 L1163.7 859.5 L1165.9 864.8 L1162.7 868.3 L1158.8 869.3 L1153.2 874.3 L1151.8 880.2 L1155.3 884.5 L1159.2 887.6 L1164.1 889.7 L1165.9 895.7 L1169.4 901.0 L1177.8 905.2 L1179.2 909.1 L1183.4 912.6 L1190.5 916.1 L1196.4 920.3 L1199.3 924.9 L1195.0 926.6 L1190.5 920.7 L1186.9 920.3 L1185.2 925.6 L1188.7 931.6 L1186.9 934.7 L1184.5 934.7 L1182.7 939.6 L1178.9 944.9 L1176.0 943.2 L1178.2 937.9 L1179.2 930.9 L1176.4 925.6 L1171.1 920.3 L1165.9 916.8 L1160.6 913.3 L1156.2 911.5 L1151.8 906.2 L1146.5 901.0 L1142.1 897.5 L1138.6 891.5 L1136.0 885.2 L1131.6 882.7 L1127.2 883.4 L1122.8 886.2 L1117.7 886.9 L1116.6 882.7 L1119.4 879.9 L1114.9 878.1 L1113.8 873.6 L1116.6 869.3 L1115.6 865.8 Z" fill="#fff" stroke="#050505" stroke-width="2.7" stroke-linejoin="round"/>
<path d="M1152.7 942.5 L1158.8 940.7 L1165.9 942.5 L1174.6 941.4 L1176.4 944.9 L1174.6 951.2 L1175.7 956.2 L1171.1 957.6 L1164.1 954.8 L1158.8 950.2 L1154.3 947.7 Z" fill="#fff" stroke="#050505" stroke-width="2.7" stroke-linejoin="round"/>
<path d="M1123.7 914.3 L1130.7 914.9 L1136.0 914.2 L1137.4 920.3 L1136.0 925.6 L1137.0 932.6 L1133.3 937.2 L1128.9 939.6 L1124.5 937.2 L1123.5 930.0 L1124.5 923.8 L1122.3 918.6 Z" fill="#fff" stroke="#050505" stroke-width="2.7" stroke-linejoin="round"/>
<polygon transform="translate(1220.5,843.6) rotate(-32.83)" points="0.0,-6.3 63.2,-6.3 63.2,-12.6 76.2,0.0 63.2,12.6 63.2,6.3 0.0,6.3" fill="#b4d3f6" stroke="#111" stroke-width="0.9"/>
<polygon transform="translate(1229.8,871.3) rotate(-18.22)" points="0.0,-6.3 54.5,-6.3 54.5,-12.6 67.5,0.0 54.5,12.6 54.5,6.3 0.0,6.3" fill="#b4d3f6" stroke="#111" stroke-width="0.9"/>
<polygon transform="translate(1230.5,900.7) rotate(0.00)" points="0.0,-6.3 52.1,-6.3 52.1,-12.6 65.1,0.0 52.1,12.6 52.1,6.3 0.0,6.3" fill="#b4d3f6" stroke="#111" stroke-width="0.9"/>
<polygon transform="translate(1228.6,940.6) rotate(12.61)" points="0.0,-6.3 55.2,-6.3 55.2,-12.6 68.2,0.0 55.2,12.6 55.2,6.3 0.0,6.3" fill="#b4d3f6" stroke="#111" stroke-width="0.9"/>
<polygon transform="translate(1222.3,973.6) rotate(36.66)" points="0.0,-6.3 62.0,-6.3 62.0,-12.6 75.0,0.0 62.0,12.6 62.0,6.3 0.0,6.3" fill="#b4d3f6" stroke="#111" stroke-width="0.9"/>
<path d="M1316.6 790.6 A17.8 17.8 0 0 1 1319.6 777.2 M1321.2 775 A17.8 17.8 0 0 1 1340.6 770.6 M1351.2 783.6 A17.8 17.8 0 0 1 1347 800" fill="none" stroke="#1a1414" stroke-width="1.5" stroke-linecap="round"/>
<circle cx="1320.2" cy="776.2" r="0.8" fill="#1a1414"/>
<rect x="1322.5" y="784.3" width="7.6" height="12" fill="#6f9ff0" stroke="#1a1414" stroke-width="1.3"/>
<rect x="1330.7" y="778.6" width="7.7" height="20" fill="#e0848c" stroke="#1a1414" stroke-width="1.3"/>
<rect x="1339.1" y="788.7" width="7.1" height="15.4" fill="#f5c45a" stroke="#1a1414" stroke-width="1.3"/>
<path d="M1319.3 794.2 C1323 793.4 1329 793.6 1335.2 797.1 C1337.4 798.4 1338.4 799.6 1337.6 801.2 L1339.5 803.6 C1344 803.8 1349 803 1352.7 802 C1355.5 801.6 1356.6 804.4 1354.7 806.4 C1351 808.4 1345 810 1339.1 811.3 C1336 811 1331 808.6 1326.9 806.9 C1324 806.3 1321 806.4 1319.3 806.4 Z" fill="#f8d9c0" stroke="#1a1414" stroke-width="1.3" stroke-linejoin="round"/>
<path d="M1337.4 801.4 C1334 802.4 1331 801.4 1328.8 800.5" fill="none" stroke="#1a1414" stroke-width="1.3" stroke-linecap="round"/>
<rect x="1311.6" y="791.8" width="7.6" height="15.6" rx="1.2" fill="#9a9fae" stroke="#1a1414" stroke-width="1.5"/>
<path d="M1342.8 781.4 L1350.4 772.8" stroke="#1a1414" stroke-width="1.5" stroke-linecap="round"/><circle cx="1343.9" cy="773.9" r="1.3" fill="#fff" stroke="#1a1414" stroke-width="1.3"/><circle cx="1348.9" cy="780.4" r="1.3" fill="#fff" stroke="#1a1414" stroke-width="1.3"/>
<path d="M1310.4 861.5 L1315.6 838.6 L1324.5 835.8 L1334 843 L1343.4 835.8 L1352.6 838.6 L1357.6 861.5 L1346 857 L1334 861.8 L1322 857 Z" fill="#62d06a" stroke="#1a1a1a" stroke-width="1.2" stroke-linejoin="round"/>
<path d="M1310.9 860.9 L1313.6 848.5 L1323.6 846 L1322 856.6 Z" fill="#a4e2f2"/>
<path d="M1322.4 856.8 L1323.8 846 L1329 850 L1333.4 861 Z" fill="#a4e2f2"/>
<path d="M1344 836.5 L1352 839 L1354.6 850 L1347 846 Z" fill="#a4e2f2"/>
<path d="M1313.5 849 L1323.8 845.6 M1324 845 L1334 852 L1343.6 841 L1349 839 M1326 846.5 L1333.6 860.8 M1344 842 L1355 858" stroke="#f0c040" stroke-width="1.6" fill="none"/>
<path d="M1324.5 835.8 L1322 857 M1334 843 V861.8 M1343.4 835.8 L1346 857" stroke="#1a1a1a" stroke-width="0.8" fill="none"/>
<path d="M1334 843.2 C1329 836 1324.7 833 1324.7 828.4 A9.3 9.3 0 0 1 1343.3 828.4 C1343.3 833 1339 836 1334 843.2 Z" fill="#e24a48" stroke="#1a1a1a" stroke-width="1.2"/>
<circle cx="1334" cy="828.3" r="3.4" fill="#fff" stroke="#1a1a1a" stroke-width="0.9"/>
<path d="M1324 880.4 L1333.4 875.8 L1342.8 880.4" fill="none" stroke="#e06a66" stroke-width="1.4"/>
<rect x="1313.5" y="892" width="39.8" height="24.6" fill="#ececf0"/>
<path d="M1313.6 884 H1353.2 L1355.6 892.3 H1311.3 Z" fill="#e25c5a"/>
<rect x="1327.3" y="880.1" width="13.3" height="36.5" fill="#dcdde2"/>
<rect x="1316.2" y="894.6" width="3.2" height="3.4" fill="#6fa8cc"/>
<rect x="1316.2" y="900.6" width="3.2" height="3.4" fill="#6fa8cc"/>
<rect x="1316.2" y="906.6" width="3.2" height="3.4" fill="#6fa8cc"/>
<rect x="1316.2" y="912" width="3.2" height="3.4" fill="#6fa8cc"/>
<rect x="1321.8" y="894.6" width="3.2" height="3.4" fill="#6fa8cc"/>
<rect x="1321.8" y="900.6" width="3.2" height="3.4" fill="#6fa8cc"/>
<rect x="1321.8" y="906.6" width="3.2" height="3.4" fill="#6fa8cc"/>
<rect x="1321.8" y="912" width="3.2" height="3.4" fill="#6fa8cc"/>
<rect x="1342.6" y="894.6" width="3.2" height="3.4" fill="#6fa8cc"/>
<rect x="1342.6" y="900.6" width="3.2" height="3.4" fill="#6fa8cc"/>
<rect x="1342.6" y="906.6" width="3.2" height="3.4" fill="#6fa8cc"/>
<rect x="1342.6" y="912" width="3.2" height="3.4" fill="#6fa8cc"/>
<rect x="1348.2" y="894.6" width="3.2" height="3.4" fill="#6fa8cc"/>
<rect x="1348.2" y="900.6" width="3.2" height="3.4" fill="#6fa8cc"/>
<rect x="1348.2" y="906.6" width="3.2" height="3.4" fill="#6fa8cc"/>
<rect x="1348.2" y="912" width="3.2" height="3.4" fill="#6fa8cc"/>
<circle cx="1333.4" cy="890.4" r="6.1" fill="#fff"/>
<path d="M1333.4 886.4 V894.4 M1329.4 890.4 H1337.4" stroke="#e25c5a" stroke-width="1.9"/>
<rect x="1329.2" y="904.5" width="8.6" height="12.1" fill="#44546a"/>
<g transform="translate(1309.8,936.9) scale(1,1)" stroke="#333" stroke-width="0.7"><rect x="0.2" y="0.3" width="3" height="17" rx="1.4" fill="#a89060"/><path d="M2.7 12 H21 V15.4 H2.7" fill="none" stroke="#888" stroke-width="0.9"/><path d="M2 17 V19.4 M20.6 12 V19.4" stroke="#666" stroke-width="1" fill="none"/><rect x="2.7" y="3.8" width="5.4" height="3.6" rx="0.8" fill="#f4f0e6"/><rect x="2.7" y="7.2" width="18.6" height="3" fill="#f0c040"/><rect x="10.6" y="6.4" width="11" height="6.4" rx="1.2" fill="#8ec8ee"/><circle cx="2" cy="19.7" r="1.5" fill="#3a3a44" stroke="none"/><circle cx="20.6" cy="19.7" r="1.5" fill="#3a3a44" stroke="none"/></g>
<g transform="translate(1358.1,936.9) scale(-1,1)" stroke="#333" stroke-width="0.7"><rect x="0.2" y="0.3" width="3" height="17" rx="1.4" fill="#a89060"/><path d="M2.7 12 H21 V15.4 H2.7" fill="none" stroke="#888" stroke-width="0.9"/><path d="M2 17 V19.4 M20.6 12 V19.4" stroke="#666" stroke-width="1" fill="none"/><rect x="2.7" y="3.8" width="5.4" height="3.6" rx="0.8" fill="#f4f0e6"/><rect x="2.7" y="7.2" width="18.6" height="3" fill="#f0c040"/><rect x="10.6" y="6.4" width="11" height="6.4" rx="1.2" fill="#8ec8ee"/><circle cx="2" cy="19.7" r="1.5" fill="#3a3a44" stroke="none"/><circle cx="20.6" cy="19.7" r="1.5" fill="#3a3a44" stroke="none"/></g>
<g transform="translate(1309.8,961.0) scale(1,1)" stroke="#333" stroke-width="0.7"><rect x="0.2" y="0.3" width="3" height="17" rx="1.4" fill="#a89060"/><path d="M2.7 12 H21 V15.4 H2.7" fill="none" stroke="#888" stroke-width="0.9"/><path d="M2 17 V19.4 M20.6 12 V19.4" stroke="#666" stroke-width="1" fill="none"/><rect x="2.7" y="3.8" width="5.4" height="3.6" rx="0.8" fill="#f4f0e6"/><rect x="2.7" y="7.2" width="18.6" height="3" fill="#f0c040"/><rect x="10.6" y="6.4" width="11" height="6.4" rx="1.2" fill="#8ec8ee"/><circle cx="2" cy="19.7" r="1.5" fill="#3a3a44" stroke="none"/><circle cx="20.6" cy="19.7" r="1.5" fill="#3a3a44" stroke="none"/></g>
<g transform="translate(1358.1,961.0) scale(-1,1)" stroke="#333" stroke-width="0.7"><rect x="0.2" y="0.3" width="3" height="17" rx="1.4" fill="#a89060"/><path d="M2.7 12 H21 V15.4 H2.7" fill="none" stroke="#888" stroke-width="0.9"/><path d="M2 17 V19.4 M20.6 12 V19.4" stroke="#666" stroke-width="1" fill="none"/><rect x="2.7" y="3.8" width="5.4" height="3.6" rx="0.8" fill="#f4f0e6"/><rect x="2.7" y="7.2" width="18.6" height="3" fill="#f0c040"/><rect x="10.6" y="6.4" width="11" height="6.4" rx="1.2" fill="#8ec8ee"/><circle cx="2" cy="19.7" r="1.5" fill="#3a3a44" stroke="none"/><circle cx="20.6" cy="19.7" r="1.5" fill="#3a3a44" stroke="none"/></g>
<path d="M1316 1043.4 C1311 1030 1318 1024 1322.5 1023 L1326 1027 C1322 1029 1320 1034 1331 1043.4 Z" fill="#bdbdbd" stroke="#1a1a1a" stroke-width="0.9" stroke-linejoin="round"/>
<rect x="1311.7" y="1043.4" width="42.8" height="6.4" rx="3.2" fill="#5a9ae8" stroke="#1a1a1a" stroke-width="0.9"/>
<rect x="1319.4" y="1036.6" width="27.4" height="3.2" rx="1.2" fill="#8a8260" stroke="#1a1a1a" stroke-width="0.8"/>
<g transform="translate(1325.2,1020.6) rotate(42)" stroke="#1a1a1a" stroke-width="0.9"><rect x="-12.5" y="-2.6" width="4" height="5.2" fill="#4a8ae0"/><rect x="-14.6" y="-4" width="2.4" height="8" rx="0.8" fill="#4a8ae0"/><rect x="-8.6" y="-4.6" width="2.6" height="9.2" fill="#f0d868"/><rect x="-6" y="-4.6" width="15" height="9.2" fill="#4a8ae0"/><rect x="9" y="-2.2" width="3.4" height="4.4" rx="1" fill="#e8e890"/></g>
<circle cx="1343.5" cy="1018" r="10.4" fill="#a39788" stroke="#1a1a1a" stroke-width="1"/>
<rect x="-2.6" y="-4.6" width="5.2" height="9.2" rx="2.6" transform="translate(1343.4,1018.4) rotate(25)" fill="#e28a6a" stroke="#6a3a2a" stroke-width="0.7"/>
<circle cx="1338.9" cy="1013.2" r="0.9" fill="#3a2a22"/>
<circle cx="1347.9" cy="1023.0" r="0.9" fill="#3a2a22"/>
<circle cx="1337.0" cy="1020.5" r="0.9" fill="#3a2a22"/>
<circle cx="1349.9" cy="1015.0" r="0.9" fill="#3a2a22"/>
<circle cx="1344.0" cy="1010.6" r="0.9" fill="#3a2a22"/>
<circle cx="1342.5" cy="1025.3" r="0.9" fill="#3a2a22"/>
<path d="M1728.9 767.6 C1740 768 1749 768.4 1751.4 770.6 V904 C1751.6 908.5 1760 909.8 1774.6 910.3 C1760 910.9 1751.6 912 1751.4 916.6 V1049 C1749 1051.2 1740 1051.6 1728.9 1052 Z" fill="#b4d3f6" stroke="#3f5f86" stroke-width="0.7"/>
<rect x="1821.5" y="834.2" width="9.8" height="26" rx="4.9" fill="#6256b4"/>
<rect x="1821.5" y="981.7" width="9.8" height="26" rx="4.9" fill="#6256b4"/>
<rect x="1841.7" y="834.2" width="9.8" height="26" rx="4.9" fill="#6256b4"/>
<rect x="1841.7" y="981.7" width="9.8" height="26" rx="4.9" fill="#6256b4"/>
<rect x="1862.0" y="834.2" width="9.8" height="26" rx="4.9" fill="#6256b4"/>
<rect x="1862.0" y="981.7" width="9.8" height="26" rx="4.9" fill="#6256b4"/>
<rect x="1882.5" y="834.2" width="9.8" height="26" rx="4.9" fill="#3b2f7e"/>
<rect x="1882.5" y="981.7" width="9.8" height="26" rx="4.9" fill="#3b2f7e"/>
<rect x="1902.6" y="834.2" width="9.8" height="26" rx="4.9" fill="#3b2f7e"/>
<rect x="1902.6" y="981.7" width="9.8" height="26" rx="4.9" fill="#3b2f7e"/>
<rect x="1923.1" y="834.2" width="9.8" height="26" rx="4.9" fill="#3b2f7e"/>
<rect x="1923.1" y="981.7" width="9.8" height="26" rx="4.9" fill="#3b2f7e"/>
<rect x="1790.3" y="865.1" width="26" height="9.8" rx="4.9" fill="#6256b4"/>
<rect x="1937.8" y="865.1" width="26" height="9.8" rx="4.9" fill="#3b2f7e"/>
<rect x="1790.3" y="885.6" width="26" height="9.8" rx="4.9" fill="#6256b4"/>
<rect x="1937.8" y="885.6" width="26" height="9.8" rx="4.9" fill="#3b2f7e"/>
<rect x="1790.3" y="905.9" width="26" height="9.8" rx="4.9" fill="#6256b4"/>
<rect x="1937.8" y="905.9" width="26" height="9.8" rx="4.9" fill="#3b2f7e"/>
<rect x="1790.3" y="926.4" width="26" height="9.8" rx="4.9" fill="#6256b4"/>
<rect x="1937.8" y="926.4" width="26" height="9.8" rx="4.9" fill="#3b2f7e"/>
<rect x="1790.3" y="946.5" width="26" height="9.8" rx="4.9" fill="#6256b4"/>
<rect x="1937.8" y="946.5" width="26" height="9.8" rx="4.9" fill="#3b2f7e"/>
<rect x="1790.3" y="967.0" width="26" height="9.8" rx="4.9" fill="#6256b4"/>
<rect x="1937.8" y="967.0" width="26" height="9.8" rx="4.9" fill="#3b2f7e"/>
<path d="M1812 852 H1877.3 V990.6 H1812 Q1807.9 990.6 1807.9 986.5 V856.1 Q1807.9 852 1812 852 Z" fill="#abc2f7"/>
<path d="M1877.3 852 H1942.5 Q1946.6 852 1946.6 856.1 V986.5 Q1946.6 990.6 1942.5 990.6 H1877.3 Z" fill="#7d88e2"/>
<path d="M1831.4 871.8 H1877.3 V969.9 H1831.4 Q1828.2 969.9 1828.2 966.7 V875 Q1828.2 871.8 1831.4 871.8 Z" fill="#6256b4"/>
<path d="M1877.3 871.8 H1922.7 Q1925.9 871.8 1925.9 875 V966.7 Q1925.9 969.9 1922.7 969.9 H1877.3 Z" fill="#3b2f7e"/>
<defs><linearGradient id="aig" gradientUnits="userSpaceOnUse" x1="1846" y1="0" x2="1909" y2="0"><stop offset="0.497" stop-color="#fbfbfe"/><stop offset="0.497" stop-color="#e4e1f3"/></linearGradient></defs>
<text x="1877.2" y="945.2" text-anchor="middle" font-family="'Liberation Sans', sans-serif" font-weight="bold" font-size="68" fill="url(#aig)" stroke="url(#aig)" stroke-width="2.6" stroke-linejoin="round" textLength="61" lengthAdjust="spacingAndGlyphs">AI</text>
<path d="M1877.3 890 V950" stroke="#e4e2f4" stroke-width="0" />
</svg>
<div class="b" style="left:523.6px;top:1147.0px;width:712.7px;height:342.6px;">
<div class="b" style="left:0;top:0;width:712.7px;height:45.3px;background:#dcdcea"></div>
<div class="b" style="left:0;top:45.3px;width:712.7px;height:30.0px;background:#f1f1f1"></div>
<div class="b" style="left:0;top:105.1px;width:712.7px;height:29.8px;background:#f1f1f1"></div>
<div class="b" style="left:0;top:164.6px;width:712.7px;height:29.7px;background:#f1f1f1"></div>
<div class="b" style="left:0;top:223.9px;width:712.7px;height:29.6px;background:#f1f1f1"></div>
<div class="b" style="left:0;top:283.1px;width:712.7px;height:29.9px;background:#f1f1f1"></div>
<div class="th" style="left:0.0px;top:0.0px;width:135.5px;height:45.3px;"><span>Presidio Ospedaliero</span></div>
<div class="th" style="left:135.5px;top:0.0px;width:50.8px;height:45.3px;"><span>Totale<br>Ricoveri</span></div>
<div class="th" style="left:186.3px;top:0.0px;width:54.2px;height:45.3px;"><span>Pazienti<br>over 65</span></div>
<div class="th" style="left:240.5px;top:0.0px;width:40.7px;height:45.3px;"><span>Tipo C</span></div>
<div class="th" style="left:281.2px;top:0.0px;width:40.9px;height:45.3px;"><span>Tipo M</span></div>
<div class="th" style="left:322.1px;top:0.0px;width:40.4px;height:45.3px;"><span>DRG<br>peso &lt;<br>1</span></div>
<div class="th" style="left:362.5px;top:0.0px;width:40.9px;height:45.3px;"><span>DRG<br>peso<br>1- 2</span></div>
<div class="th" style="left:403.4px;top:0.0px;width:40.8px;height:45.3px;"><span>DRG<br>peso &gt;<br>2</span></div>
<div class="th" style="left:444.2px;top:0.0px;width:64.3px;height:45.3px;"><span>Ricoveri<br>post acuti</span></div>
<div class="th" style="left:508.5px;top:0.0px;width:88.5px;height:45.3px;"><span>Ricoveri M con<br>DMD &gt; 12 gg</span></div>
<div class="th" style="left:597.0px;top:0.0px;width:67.6px;height:45.3px;"><span>Media giorni<br>degenza</span></div>
<div class="th" style="left:664.6px;top:0.0px;width:48.1px;height:45.3px;"><span>Media<br>peso<br>DRG</span></div>
<div class="td tl" style="left:0.0px;top:45.3px;width:135.5px;height:30.0px;"><span>PRESIDIO OSPEDALIERO<br>'A.CARDARELLI'</span></div>
<div class="td" style="left:135.5px;top:45.3px;width:50.8px;height:30.0px;"><span>2367<br>(61,7%)</span></div>
<div class="td" style="left:186.3px;top:45.3px;width:54.2px;height:30.0px;"><span>1208<br>(51,0%)</span></div>
<div class="td" style="left:240.5px;top:45.3px;width:40.7px;height:30.0px;"><span>763<br>(32,2%)</span></div>
<div class="td" style="left:281.2px;top:45.3px;width:40.9px;height:30.0px;"><span>1604<br>(67,8%)</span></div>
<div class="td" style="left:322.1px;top:45.3px;width:40.4px;height:30.0px;"><span>1260<br>(53,2%)</span></div>
<div class="td" style="left:362.5px;top:45.3px;width:40.9px;height:30.0px;"><span>833<br>(35,2%)</span></div>
<div class="td" style="left:403.4px;top:45.3px;width:40.8px;height:30.0px;"><span>274<br>(11,6%)</span></div>
<div class="td" style="left:444.2px;top:45.3px;width:64.3px;height:30.0px;"><span>41 (1,7%)</span></div>
<div class="td" style="left:508.5px;top:45.3px;width:88.5px;height:30.0px;"><span>256 (10,8%)</span></div>
<div class="td" style="left:597.0px;top:45.3px;width:67.6px;height:30.0px;"><span>7,75</span></div>
<div class="td" style="left:664.6px;top:45.3px;width:48.1px;height:30.0px;"><span>1,0875</span></div>
<div class="td tl" style="left:0.0px;top:75.3px;width:135.5px;height:29.8px;"><span>RESPONSIBLE R.H. (Ex Gemelli)</span></div>
<div class="td" style="left:135.5px;top:75.3px;width:50.8px;height:29.8px;"><span>604<br>(15,8%)</span></div>
<div class="td" style="left:186.3px;top:75.3px;width:54.2px;height:29.8px;"><span>434 (71,9%)</span></div>
<div class="td" style="left:240.5px;top:75.3px;width:40.7px;height:29.8px;"><span>407<br>(67,4%)</span></div>
<div class="td" style="left:281.2px;top:75.3px;width:40.9px;height:29.8px;"><span>197<br>(32,6%)</span></div>
<div class="td" style="left:322.1px;top:75.3px;width:40.4px;height:29.8px;"><span>153<br>(25,3%)</span></div>
<div class="td" style="left:362.5px;top:75.3px;width:40.9px;height:29.8px;"><span>276<br>(45,7%)</span></div>
<div class="td" style="left:403.4px;top:75.3px;width:40.8px;height:29.8px;"><span>175<br>(29,0%)</span></div>
<div class="td" style="left:444.2px;top:75.3px;width:64.3px;height:29.8px;"><span>24 (4,0%)</span></div>
<div class="td" style="left:508.5px;top:75.3px;width:88.5px;height:29.8px;"><span>12 (2,0%)</span></div>
<div class="td" style="left:597.0px;top:75.3px;width:67.6px;height:29.8px;"><span>4,5</span></div>
<div class="td" style="left:664.6px;top:75.3px;width:48.1px;height:29.8px;"><span>1,8943</span></div>
<div class="td tl" style="left:0.0px;top:105.1px;width:135.5px;height:29.8px;"><span>CASA DI CURA VILLA MARIA SRL</span></div>
<div class="td" style="left:135.5px;top:105.1px;width:50.8px;height:29.8px;"><span>357 (9,3%)</span></div>
<div class="td" style="left:186.3px;top:105.1px;width:54.2px;height:29.8px;"><span>280 (78,4%)</span></div>
<div class="td" style="left:240.5px;top:105.1px;width:40.7px;height:29.8px;"><span>71<br>(19,9%)</span></div>
<div class="td" style="left:281.2px;top:105.1px;width:40.9px;height:29.8px;"><span>286<br>(80,1%)</span></div>
<div class="td" style="left:322.1px;top:105.1px;width:40.4px;height:29.8px;"><span>89<br>(24,9%)</span></div>
<div class="td" style="left:362.5px;top:105.1px;width:40.9px;height:29.8px;"><span>259<br>(72,5%)</span></div>
<div class="td" style="left:403.4px;top:105.1px;width:40.8px;height:29.8px;"><span>9 (2,5%)</span></div>
<div class="td" style="left:444.2px;top:105.1px;width:64.3px;height:29.8px;"><span>0 (0,0%)</span></div>
<div class="td" style="left:508.5px;top:105.1px;width:88.5px;height:29.8px;"><span>15 (4,2%)</span></div>
<div class="td" style="left:597.0px;top:105.1px;width:67.6px;height:29.8px;"><span>5,29</span></div>
<div class="td" style="left:664.6px;top:105.1px;width:48.1px;height:29.8px;"><span>1,094</span></div>
<div class="td tl" style="left:0.0px;top:134.9px;width:135.5px;height:29.7px;"><span>CASA DI CURA PRIVATA VILLA<br>ESTHER s.r.l.</span></div>
<div class="td" style="left:135.5px;top:134.9px;width:50.8px;height:29.7px;"><span>207 (5,4%)</span></div>
<div class="td" style="left:186.3px;top:134.9px;width:54.2px;height:29.7px;"><span>138 (66,7%)</span></div>
<div class="td" style="left:240.5px;top:134.9px;width:40.7px;height:29.7px;"><span>119<br>(57,5%)</span></div>
<div class="td" style="left:281.2px;top:134.9px;width:40.9px;height:29.7px;"><span>88<br>(42,5%)</span></div>
<div class="td" style="left:322.1px;top:134.9px;width:40.4px;height:29.7px;"><span>122<br>(58,9%)</span></div>
<div class="td" style="left:362.5px;top:134.9px;width:40.9px;height:29.7px;"><span>45<br>(21,7%)</span></div>
<div class="td" style="left:403.4px;top:134.9px;width:40.8px;height:29.7px;"><span>40<br>(19,3%)</span></div>
<div class="td" style="left:444.2px;top:134.9px;width:64.3px;height:29.7px;"><span>40 (19,3%)</span></div>
<div class="td" style="left:508.5px;top:134.9px;width:88.5px;height:29.7px;"><span>43 (20,8%)</span></div>
<div class="td" style="left:597.0px;top:134.9px;width:67.6px;height:29.7px;"><span>6,95</span></div>
<div class="td" style="left:664.6px;top:134.9px;width:48.1px;height:29.7px;"><span>1,0679</span></div>
<div class="td tl" style="left:0.0px;top:164.6px;width:135.5px;height:29.7px;"><span>NEUROMED I.R.C.C.S.</span></div>
<div class="td" style="left:135.5px;top:164.6px;width:50.8px;height:29.7px;"><span>121 (3,2%)</span></div>
<div class="td" style="left:186.3px;top:164.6px;width:54.2px;height:29.7px;"><span>62 (51,2%)</span></div>
<div class="td" style="left:240.5px;top:164.6px;width:40.7px;height:29.7px;"><span>50<br>(41,3%)</span></div>
<div class="td" style="left:281.2px;top:164.6px;width:40.9px;height:29.7px;"><span>71<br>(58,7%)</span></div>
<div class="td" style="left:322.1px;top:164.6px;width:40.4px;height:29.7px;"><span>46<br>(38,0%)</span></div>
<div class="td" style="left:362.5px;top:164.6px;width:40.9px;height:29.7px;"><span>33<br>(27,3%)</span></div>
<div class="td" style="left:403.4px;top:164.6px;width:40.8px;height:29.7px;"><span>42<br>(34,7%)</span></div>
<div class="td" style="left:444.2px;top:164.6px;width:64.3px;height:29.7px;"><span>15 (12,4%)</span></div>
<div class="td" style="left:508.5px;top:164.6px;width:88.5px;height:29.7px;"><span>15 (12,4%)</span></div>
<div class="td" style="left:597.0px;top:164.6px;width:67.6px;height:29.7px;"><span>15,12</span></div>
<div class="td" style="left:664.6px;top:164.6px;width:48.1px;height:29.7px;"><span>1,9635</span></div>
<div class="td tl" style="left:0.0px;top:194.3px;width:135.5px;height:29.6px;"><span>PLESSO OSPEDALIERO 'S<br>TIMOTEO- TERMOLI</span></div>
<div class="td" style="left:135.5px;top:194.3px;width:50.8px;height:29.6px;"><span>59 (1,5%)</span></div>
<div class="td" style="left:186.3px;top:194.3px;width:54.2px;height:29.6px;"><span>37 (62,7%)</span></div>
<div class="td" style="left:240.5px;top:194.3px;width:40.7px;height:29.6px;"><span>40<br>(67,8%)</span></div>
<div class="td" style="left:281.2px;top:194.3px;width:40.9px;height:29.6px;"><span>19<br>(32,2%)</span></div>
<div class="td" style="left:322.1px;top:194.3px;width:40.4px;height:29.6px;"><span>20<br>(33,9%)</span></div>
<div class="td" style="left:362.5px;top:194.3px;width:40.9px;height:29.6px;"><span>33<br>(55,9%)</span></div>
<div class="td" style="left:403.4px;top:194.3px;width:40.8px;height:29.6px;"><span>6<br>(10,2%)</span></div>
<div class="td" style="left:444.2px;top:194.3px;width:64.3px;height:29.6px;"><span>0 (0,0%)</span></div>
<div class="td" style="left:508.5px;top:194.3px;width:88.5px;height:29.6px;"><span>3 (5,1%)</span></div>
<div class="td" style="left:597.0px;top:194.3px;width:67.6px;height:29.6px;"><span>6,1</span></div>
<div class="td" style="left:664.6px;top:194.3px;width:48.1px;height:29.6px;"><span>1,2164</span></div>
<div class="td tl" style="left:0.0px;top:223.9px;width:135.5px;height:29.6px;"><span>COMPLESSO OSPEDALIERO<br>ISERNIA</span></div>
<div class="td" style="left:135.5px;top:223.9px;width:50.8px;height:29.6px;"><span>43 (1,1%)</span></div>
<div class="td" style="left:186.3px;top:223.9px;width:54.2px;height:29.6px;"><span>17 (39,5%)</span></div>
<div class="td" style="left:240.5px;top:223.9px;width:40.7px;height:29.6px;"><span>21<br>(48,8%)</span></div>
<div class="td" style="left:281.2px;top:223.9px;width:40.9px;height:29.6px;"><span>22<br>(51,2%)</span></div>
<div class="td" style="left:322.1px;top:223.9px;width:40.4px;height:29.6px;"><span>28<br>(65,1%)</span></div>
<div class="td" style="left:362.5px;top:223.9px;width:40.9px;height:29.6px;"><span>10<br>(23,3%)</span></div>
<div class="td" style="left:403.4px;top:223.9px;width:40.8px;height:29.6px;"><span>5<br>(11,6%)</span></div>
<div class="td" style="left:444.2px;top:223.9px;width:64.3px;height:29.6px;"><span>0 (0,0%)</span></div>
<div class="td" style="left:508.5px;top:223.9px;width:88.5px;height:29.6px;"><span>3 (7,0%)</span></div>
<div class="td" style="left:597.0px;top:223.9px;width:67.6px;height:29.6px;"><span>5,86</span></div>
<div class="td" style="left:664.6px;top:223.9px;width:48.1px;height:29.6px;"><span>1,2757</span></div>
<div class="td tl" style="left:0.0px;top:253.5px;width:135.5px;height:29.6px;"><span>OSPEDALE "CARACCIOLO"<br>AGNONE</span></div>
<div class="td" style="left:135.5px;top:253.5px;width:50.8px;height:29.6px;"><span>40 (1,0%)</span></div>
<div class="td" style="left:186.3px;top:253.5px;width:54.2px;height:29.6px;"><span>31 (77,5%)</span></div>
<div class="td" style="left:240.5px;top:253.5px;width:40.7px;height:29.6px;"><span>0 (0,0%)</span></div>
<div class="td" style="left:281.2px;top:253.5px;width:40.9px;height:29.6px;"><span>40<br>(100,0%)</span></div>
<div class="td" style="left:322.1px;top:253.5px;width:40.4px;height:29.6px;"><span>13<br>(32,5%)</span></div>
<div class="td" style="left:362.5px;top:253.5px;width:40.9px;height:29.6px;"><span>25<br>(62,5%)</span></div>
<div class="td" style="left:403.4px;top:253.5px;width:40.8px;height:29.6px;"><span>2 (5,0%)</span></div>
<div class="td" style="left:444.2px;top:253.5px;width:64.3px;height:29.6px;"><span>1 (2,5%)</span></div>
<div class="td" style="left:508.5px;top:253.5px;width:88.5px;height:29.6px;"><span>11 (27,5%)</span></div>
<div class="td" style="left:597.0px;top:253.5px;width:67.6px;height:29.6px;"><span>11,6</span></div>
<div class="td" style="left:664.6px;top:253.5px;width:48.1px;height:29.6px;"><span>1,1163</span></div>
<div class="td tl" style="left:0.0px;top:283.1px;width:135.5px;height:29.9px;"><span>GEA MEDICA IST. EUROPEO di<br>RIABILITAZION</span></div>
<div class="td" style="left:135.5px;top:283.1px;width:50.8px;height:29.9px;"><span>36 (0,9%)</span></div>
<div class="td" style="left:186.3px;top:283.1px;width:54.2px;height:29.9px;"><span>32 (88,9%)</span></div>
<div class="td" style="left:240.5px;top:283.1px;width:40.7px;height:29.9px;"><span>0 (0,0%)</span></div>
<div class="td" style="left:281.2px;top:283.1px;width:40.9px;height:29.9px;"><span>36<br>(100,0%)</span></div>
<div class="td" style="left:322.1px;top:283.1px;width:40.4px;height:29.9px;"><span>29<br>(80,6%)</span></div>
<div class="td" style="left:362.5px;top:283.1px;width:40.9px;height:29.9px;"><span>7<br>(19,4%)</span></div>
<div class="td" style="left:403.4px;top:283.1px;width:40.8px;height:29.9px;"><span>0 (0,0%)</span></div>
<div class="td" style="left:444.2px;top:283.1px;width:64.3px;height:29.9px;"><span>36 (100,0%)</span></div>
<div class="td" style="left:508.5px;top:283.1px;width:88.5px;height:29.9px;"><span>25 (69,4%)</span></div>
<div class="td" style="left:597.0px;top:283.1px;width:67.6px;height:29.9px;"><span>31,56</span></div>
<div class="td" style="left:664.6px;top:283.1px;width:48.1px;height:29.9px;"><span>0,9363</span></div>
<div class="td tl tb" style="left:0.0px;top:313.0px;width:135.5px;height:29.6px;"><span>TOTALE CAMPOBASSO<br>(RICOVERI ORDINARI)</span></div>
<div class="td tb" style="left:135.5px;top:313.0px;width:50.8px;height:29.6px;"><span>3834</span></div>
<div class="td tb" style="left:186.3px;top:313.0px;width:54.2px;height:29.6px;"><span>2239<br>(58,4%)</span></div>
<div class="td tb" style="left:240.5px;top:313.0px;width:40.7px;height:29.6px;"><span>1471<br>(38,4%)</span></div>
<div class="td tb" style="left:281.2px;top:313.0px;width:40.9px;height:29.6px;"><span>2363<br>(61,6%)</span></div>
<div class="td tb" style="left:322.1px;top:313.0px;width:40.4px;height:29.6px;"><span>1760<br>(45,9%)</span></div>
<div class="td tb" style="left:362.5px;top:313.0px;width:40.9px;height:29.6px;"><span>1521<br>(39,7%)</span></div>
<div class="td tb" style="left:403.4px;top:313.0px;width:40.8px;height:29.6px;"><span>553<br>(14,4%)</span></div>
<div class="td tb" style="left:444.2px;top:313.0px;width:64.3px;height:29.6px;"><span>157 (4,1%)</span></div>
<div class="td tb" style="left:508.5px;top:313.0px;width:88.5px;height:29.6px;"><span>383 (10,0%)</span></div>
<div class="td tb" style="left:597.0px;top:313.0px;width:67.6px;height:29.6px;"><span>7,42</span></div>
<div class="td tb" style="left:664.6px;top:313.0px;width:48.1px;height:29.6px;"><span>1,2448</span></div>
<svg class="b" style="left:-2px;top:-2px" width="716.7" height="346.6" viewBox="521.6 1145.0 716.7 346.6">
<path d="M523.6 1146.3 V1490.3M659.1 1146.3 V1490.3M709.9 1146.3 V1490.3M764.1 1146.3 V1490.3M804.8 1146.3 V1490.3M845.7 1146.3 V1490.3M886.1 1146.3 V1490.3M927.0 1146.3 V1490.3M967.8 1146.3 V1490.3M1032.1 1146.3 V1490.3M1120.6 1146.3 V1490.3M1188.2 1146.3 V1490.3M1236.3 1146.3 V1490.3M522.9 1147.0 H1237.0M522.9 1192.3 H1237.0M522.9 1222.3 H1237.0M522.9 1252.1 H1237.0M522.9 1281.9 H1237.0M522.9 1311.6 H1237.0M522.9 1341.3 H1237.0M522.9 1370.9 H1237.0M522.9 1400.5 H1237.0M522.9 1430.1 H1237.0M522.9 1460.0 H1237.0M522.9 1489.6 H1237.0" stroke="#2b2b2b" stroke-width="1.4" fill="none"/>
</svg></div>
<svg class="b" style="left:1255px;top:1125px" width="780" height="400" viewBox="1255 1125 780 400">
<polygon points="1265.6,1292.4 1312.2,1292.4 1312.2,1279.8 1336.7,1304.0 1312.2,1328.3 1312.2,1316.1 1265.6,1316.1" fill="#b4d3f6" stroke="#3f5f86" stroke-width="0.8" stroke-linejoin="miter"/>
<path d="M1411.5 1156.4 V1490.6M1463.1 1156.4 V1490.6M1514.7 1156.4 V1490.6M1566.3 1156.4 V1490.6M1617.9 1156.4 V1490.6M1669.5 1156.4 V1490.6M1721.0 1156.4 V1490.6M1772.6 1156.4 V1490.6M1824.2 1156.4 V1490.6M1875.8 1156.4 V1490.6M1927.4 1156.4 V1490.6M1979.0 1156.4 V1490.6M1383.4 1456.6 H2007.6M1383.4 1415.6 H2007.6M1383.4 1374.5 H2007.6M1383.4 1333.5 H2007.6M1383.4 1292.5 H2007.6M1383.4 1251.5 H2007.6M1383.4 1210.4 H2007.6M1383.4 1169.4 H2007.6" stroke="#e3e3e3" stroke-width="0.7" stroke-dasharray="0.9 0.9" fill="none"/>
<polygon points="1721.0,1300.9 1772.6,1303.9 1824.2,1242.8 1875.8,1171.7 1927.4,1209.8 1979.0,1243.9 1979.0,1420.2 1927.4,1474.8 1875.8,1352.4 1824.2,1428.5 1772.6,1449.1 1721.0,1319.8" fill="#245582" fill-opacity="0.115"/>
<polygon points="1721.0,1305.0 1772.6,1327.9 1824.2,1274.9 1875.8,1202.9 1927.4,1256.1 1979.0,1274.9 1979.0,1390.5 1927.4,1429.3 1875.8,1320.5 1824.2,1397.4 1772.6,1423.5 1721.0,1317.6" fill="#245582" fill-opacity="0.27"/>
<polyline points="1721.0,1305.0 1772.6,1327.9 1824.2,1274.9 1875.8,1202.9 1927.4,1256.1 1979.0,1274.9" fill="none" stroke="#1f4468" stroke-opacity="0.25" stroke-width="0.7"/>
<polyline points="1721.0,1317.6 1772.6,1423.5 1824.2,1397.4 1875.8,1320.5 1927.4,1429.3 1979.0,1390.5" fill="none" stroke="#1f4468" stroke-opacity="0.25" stroke-width="0.7"/>
<polyline points="1411.5,1423.1 1463.1,1431.5 1514.7,1318.3 1566.3,1374.5 1617.9,1244.6 1669.5,1256.1 1721.0,1309.6 1772.6,1343.8 1824.2,1306.4 1875.8,1207.0 1927.4,1264.0 1979.0,1289.0" fill="none" stroke="#8fb2cf" stroke-width="1.45" stroke-dasharray="7 3.5"/>
<polyline points="1411.5,1324.4 1463.1,1303.2 1514.7,1237.8 1566.3,1374.5 1617.9,1241.2 1669.5,1353.5 1721.0,1318.7 1772.6,1368.9 1824.2,1309.6 1875.8,1287.9 1927.4,1374.5 1979.0,1332.9" fill="none" stroke="#6f97bb" stroke-width="1.45" stroke-dasharray="9 2.5 1.5 2.5"/>
<polyline points="1411.5,1245.8 1463.1,1309.6 1514.7,1278.8 1566.3,1401.5 1617.9,1273.1 1669.5,1319.4 1721.0,1311.4 1772.6,1415.6 1824.2,1390.5 1875.8,1287.9 1927.4,1388.2 1979.0,1378.0" fill="none" stroke="#3d678a" stroke-width="1.5" stroke-dasharray="1.5 2.6"/>
<polyline points="1411.5,1331.2 1463.1,1347.9 1514.7,1281.1 1566.3,1382.1 1617.9,1323.7 1669.5,1347.9 1721.0,1312.4 1772.6,1413.9 1824.2,1391.8 1875.8,1290.0 1927.4,1386.9 1979.0,1379.5" fill="none" stroke="#3d6f9a" stroke-width="1.5" stroke-dasharray="1.5 2.6"/>
<polyline points="1514.7,1279.9 1566.3,1375.7 1617.9,1276.1 1669.5,1345.8" fill="none" stroke="#3d678a" stroke-width="1.5" stroke-dasharray="1.5 2.6"/>
<polyline points="1411.5,1359.3 1463.1,1342.2 1514.7,1270.8 1566.3,1362.5 1617.9,1269.3 1669.5,1337.4" fill="none" stroke="#1c4064" stroke-width="2.1" stroke-linejoin="round"/>
<polyline points="1721.0,1311.4 1772.6,1376.3 1824.2,1335.8 1875.8,1261.7 1927.4,1342.6 1979.0,1332.9" fill="none" stroke="#1f4a78" stroke-width="2.1" stroke-dasharray="8.5 2.2 1.6 2.2" stroke-linejoin="round"/>
<circle cx="1411.5" cy="1359.3" r="2.5" fill="#1c4064"/>
<circle cx="1463.1" cy="1342.2" r="2.5" fill="#1c4064"/>
<circle cx="1514.7" cy="1270.8" r="2.5" fill="#1c4064"/>
<circle cx="1566.3" cy="1362.5" r="2.5" fill="#1c4064"/>
<circle cx="1617.9" cy="1269.3" r="2.5" fill="#1c4064"/>
<circle cx="1669.5" cy="1337.4" r="2.5" fill="#1c4064"/>
<circle cx="1721.0" cy="1311.4" r="2.5" fill="#1f4a78"/>
<circle cx="1772.6" cy="1376.3" r="2.5" fill="#1f4a78"/>
<circle cx="1824.2" cy="1335.8" r="2.5" fill="#1f4a78"/>
<circle cx="1875.8" cy="1261.7" r="2.5" fill="#1f4a78"/>
<circle cx="1927.4" cy="1342.6" r="2.5" fill="#1f4a78"/>
<circle cx="1979.0" cy="1332.9" r="2.5" fill="#1f4a78"/>
<path d="M1383.4 1156.4 V1490.6 H2007.6" fill="none" stroke="#444" stroke-width="1"/>
<path d="M1411.5 1490.6 v2.6M1463.1 1490.6 v2.6M1514.7 1490.6 v2.6M1566.3 1490.6 v2.6M1617.9 1490.6 v2.6M1669.5 1490.6 v2.6M1721.0 1490.6 v2.6M1772.6 1490.6 v2.6M1824.2 1490.6 v2.6M1875.8 1490.6 v2.6M1927.4 1490.6 v2.6M1979.0 1490.6 v2.6M1383.4 1456.6 h-2.6M1383.4 1415.6 h-2.6M1383.4 1374.5 h-2.6M1383.4 1333.5 h-2.6M1383.4 1292.5 h-2.6M1383.4 1251.5 h-2.6M1383.4 1210.4 h-2.6M1383.4 1169.4 h-2.6" stroke="#444" stroke-width="0.8" fill="none"/>
<g font-family="'DejaVu Sans', 'Liberation Sans', sans-serif" fill="#3a3a3a">
<text x="1695" y="1143.2" text-anchor="middle" font-size="12.7" fill="#2f5878">Andamento e previsione ricoveri SDO – ASREM (2022–2025)</text>
<text x="1378.4" y="1460.5" text-anchor="end" font-size="10.6">1.25</text>
<text x="1378.4" y="1419.5" text-anchor="end" font-size="10.6">1.30</text>
<text x="1378.4" y="1378.4" text-anchor="end" font-size="10.6">1.35</text>
<text x="1378.4" y="1337.4" text-anchor="end" font-size="10.6">1.40</text>
<text x="1378.4" y="1296.4" text-anchor="end" font-size="10.6">1.45</text>
<text x="1378.4" y="1255.4" text-anchor="end" font-size="10.6">1.50</text>
<text x="1378.4" y="1214.3" text-anchor="end" font-size="10.6">1.55</text>
<text x="1378.4" y="1173.3" text-anchor="end" font-size="10.6">1.60</text>
<text x="1411.5" y="1502.4" text-anchor="middle" font-size="10.6">1</text>
<text x="1463.1" y="1502.4" text-anchor="middle" font-size="10.6">2</text>
<text x="1514.7" y="1502.4" text-anchor="middle" font-size="10.6">3</text>
<text x="1566.3" y="1502.4" text-anchor="middle" font-size="10.6">4</text>
<text x="1617.9" y="1502.4" text-anchor="middle" font-size="10.6">5</text>
<text x="1669.5" y="1502.4" text-anchor="middle" font-size="10.6">6</text>
<text x="1721.0" y="1502.4" text-anchor="middle" font-size="10.6">7</text>
<text x="1772.6" y="1502.4" text-anchor="middle" font-size="10.6">8</text>
<text x="1824.2" y="1502.4" text-anchor="middle" font-size="10.6">9</text>
<text x="1875.8" y="1502.4" text-anchor="middle" font-size="10.6">10</text>
<text x="1927.4" y="1502.4" text-anchor="middle" font-size="10.6">11</text>
<text x="1979.0" y="1502.4" text-anchor="middle" font-size="10.6">12</text>
<text x="1695" y="1516" text-anchor="middle" font-size="10.8">Mese</text>
<text transform="translate(1350.2,1323.4) rotate(-90)" text-anchor="middle" font-size="10.9">Indice ricoveri (scala relativa)</text>
<g font-size="9.1" fill="#4a4a4a">
<text x="1416.8" y="1171.3">2022</text>
<text x="1416.8" y="1185.0">2023</text>
<text x="1416.8" y="1198.6">2024</text>
<text x="1416.8" y="1212.3">Intervallo 95% (storico 2022–2024)</text>
<text x="1620.1" y="1171.3">Intervallo 80% (storico 2022–2024)</text>
<text x="1620.1" y="1185.0">2025 osservato</text>
<text x="1620.1" y="1198.6">2025 previsto</text>
<text x="1620.1" y="1212.3">Media 2022–2024 (rifer.)</text>
</g></g>
<path d="M1391.1 1168.2 H1409.7" stroke="#8fb2cf" stroke-width="1.45" stroke-dasharray="7 3.5"/>
<path d="M1391.1 1181.9 H1409.7" stroke="#6f97bb" stroke-width="1.45" stroke-dasharray="9 2.5 1.5 2.5"/>
<path d="M1391.1 1195.5 H1409.7" stroke="#3d678a" stroke-width="1.5" stroke-dasharray="1.5 2.6"/>
<rect x="1391.1" y="1206.0" width="18.6" height="6.4" fill="#1f4468" fill-opacity="0.11"/>
<rect x="1594.4" y="1165.0" width="18.6" height="6.4" fill="#1f4468" fill-opacity="0.3"/>
<path d="M1594.4 1181.9 H1613" stroke="#1c4064" stroke-width="2.1"/><circle cx="1603.7" cy="1181.9" r="2.4" fill="#1c4064"/>
<path d="M1594.4 1195.5 H1613" stroke="#1f4a78" stroke-width="2.1" stroke-dasharray="8.5 2.2 1.6 2.2"/><circle cx="1603.7" cy="1195.5" r="2.4" fill="#1f4a78"/>
<path d="M1594.4 1209.2 H1613" stroke="#3d6f9a" stroke-width="1.5" stroke-dasharray="1.5 2.6"/>
</svg>
</body></html>
